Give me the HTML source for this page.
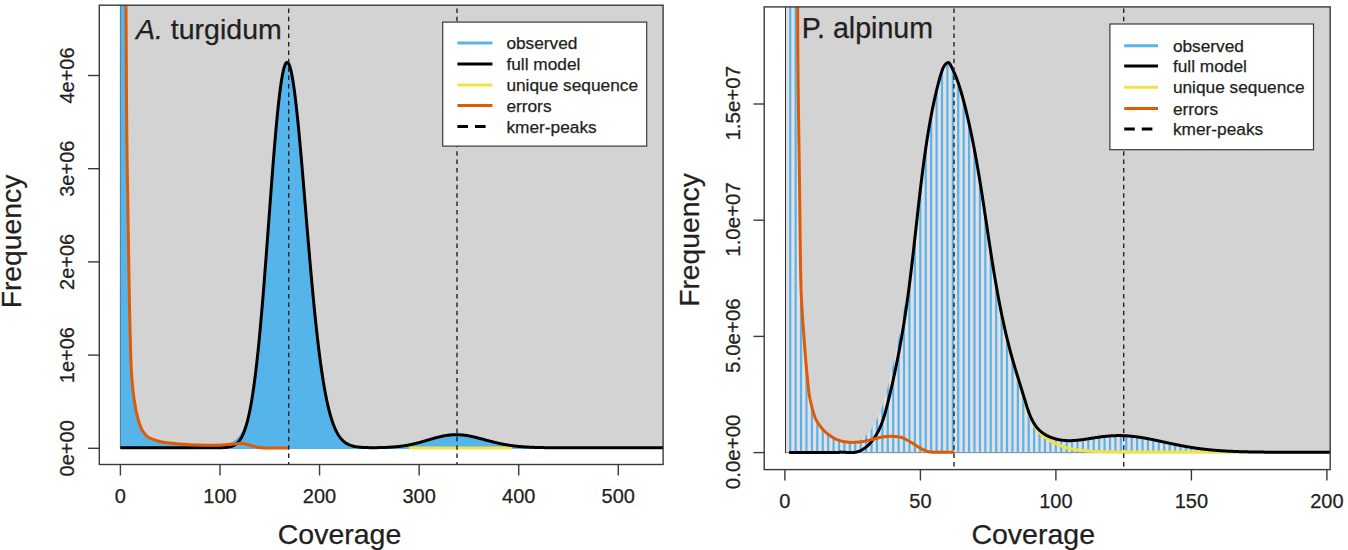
<!DOCTYPE html>
<html><head><meta charset="utf-8"><style>
html,body{margin:0;padding:0;background:#fff;}
svg{display:block;}
text{font-family:"Liberation Sans", sans-serif;fill:#231f20;stroke:#231f20;stroke-width:0.25px;}
</style></head><body>
<svg width="1348" height="550" viewBox="0 0 1348 550">
<clipPath id="cl"><rect x="99.3" y="5.2" width="563.8" height="459.3"/></clipPath>
<clipPath id="cr"><rect x="764.2" y="6.9" width="566" height="462.7"/></clipPath>
<clipPath id="robs"><path d="M786.1,452.6 L786.1,-10 L797.6,-5 L797.63,2.13 L797.66,12.04 L797.71,23.75 L797.76,36.3 L797.82,48.7 L797.9,60 L797.99,70.29 L798.1,80.37 L798.21,90.31 L798.34,100.19 L798.47,110.06 L798.6,120 L798.74,129.88 L798.89,139.63 L799.04,149.38 L799.2,159.26 L799.35,169.42 L799.5,180 L799.64,191.46 L799.78,203.78 L799.91,216.38 L800.04,228.67 L800.17,240.07 L800.3,250 L800.42,258.33 L800.52,265.5 L800.62,271.77 L800.73,277.44 L800.85,282.75 L801,288 L801.18,292.99 L801.37,297.46 L801.58,301.59 L801.81,305.54 L802.05,309.49 L802.3,313.6 L802.57,317.84 L802.86,322.08 L803.16,326.31 L803.47,330.53 L803.78,334.76 L804.1,339 L804.43,343.36 L804.77,347.86 L805.12,352.37 L805.46,356.74 L805.79,360.83 L806.1,364.5 L806.38,367.69 L806.64,370.51 L806.89,373.05 L807.13,375.41 L807.37,377.69 L807.6,380 L807.81,382.28 L808,384.44 L808.18,386.52 L808.38,388.56 L808.61,390.61 L808.9,392.7 L809.24,394.83 L809.63,396.96 L810.04,399.1 L810.5,401.24 L810.98,403.37 L811.5,405.5 L812.06,407.7 L812.68,409.97 L813.32,412.25 L813.99,414.44 L814.65,416.45 L815.3,418.2 L815.92,419.63 L816.52,420.8 L817.12,421.79 L817.74,422.7 L818.39,423.61 L819.1,424.6 L819.86,425.68 L820.66,426.79 L821.49,427.89 L822.36,428.97 L823.26,430.01 L824.2,431 L825.18,431.92 L826.19,432.8 L827.24,433.64 L828.33,434.44 L829.45,435.23 L830,435.4 L830.5,435.73 L831,436.06 L831.5,436.39 L832,436.72 L832.5,437.05 L833,437.37 L833.5,437.68 L834,437.98 L834.5,438.27 L835,438.55 L835.5,438.82 L836,439.06 L836.5,439.3 L837,439.52 L837.5,439.72 L838,439.92 L838.5,440.1 L839,440.26 L839.5,440.42 L840,440.26 L840.5,440.41 L841,440.55 L841.5,440.7 L842,440.83 L842.5,440.97 L843,441.11 L843.5,441.24 L844,441.36 L844.5,441.49 L845,441.61 L845.5,441.72 L846,441.82 L846.5,441.93 L847,442.02 L847.5,442.1 L848,442.18 L848.5,442.26 L849,442.31 L849.5,442.36 L850,442.4 L850.5,442.43 L851,442.44 L851.5,442.45 L852,442.45 L852.5,442.42 L853,442.38 L853.5,442.33 L854,442.27 L854.5,442.18 L855,442.09 L855.5,441.98 L856,441.84 L856.5,441.69 L857,441.52 L857.5,441.34 L858,441.13 L858.5,440.9 L859,440.67 L859.5,440.41 L860,440.12 L860.5,439.83 L861,439.51 L861.5,439.18 L862,438.81 L862.5,438.44 L863,438.04 L863.5,437.63 L864,437.2 L864.5,436.74 L865,436.28 L865.5,435.79 L866,435.28 L866.5,434.76 L867,434.22 L867.5,433.66 L868,433.08 L868.5,432.49 L869,431.87 L869.5,431.24 L870,430.59 L870.5,429.93 L871,429.24 L871.5,428.54 L872,427.81 L872.5,427.06 L873,426.29 L873.5,425.48 L874,424.66 L874.5,423.81 L875,422.93 L875.5,422.02 L876,421.08 L876.5,420.12 L877,419.12 L877.5,418.09 L878,417.03 L878.5,415.93 L879,414.8 L879.5,413.62 L880,412.42 L880.5,411.17 L881,409.86 L881.5,408.51 L882,407.11 L882.5,405.64 L883,404.12 L883.5,402.53 L884,400.87 L884.5,399.16 L885,397.37 L885.5,395.53 L886,393.63 L886.5,391.69 L887,389.7 L887.5,387.69 L888,385.67 L888.5,383.62 L889,381.57 L889.5,379.5 L890,377.41 L890.5,375.31 L891,373.19 L891.5,371.05 L892,368.88 L892.5,366.7 L893,364.49 L893.5,362.25 L894,359.99 L894.5,357.71 L895,355.4 L895.5,353.06 L896,350.69 L896.5,348.3 L897,345.87 L897.5,343.4 L898,340.91 L898.5,338.39 L899,335.83 L899.5,333.23 L900,330.61 L900.5,327.94 L901,325.24 L901.5,322.52 L902,319.76 L902.5,316.97 L903,314.15 L903.5,311.3 L904,308.41 L904.5,305.49 L905,302.52 L905.5,299.51 L906,296.43 L906.5,293.27 L907,290.04 L907.5,286.73 L908,283.35 L908.5,279.91 L909,276.39 L909.5,272.81 L910,269.15 L910.5,265.43 L911,261.63 L911.5,257.77 L912,253.84 L912.5,249.85 L913,245.8 L913.5,241.71 L914,237.58 L914.5,233.42 L915,229.23 L915.5,225.03 L916,220.82 L916.5,216.61 L917,212.4 L917.5,208.21 L918,204.03 L918.5,199.9 L919,195.8 L919.5,191.75 L920,187.75 L920.5,183.83 L921,179.95 L921.5,176.15 L922,172.41 L922.5,168.74 L923,165.13 L923.5,161.6 L924,158.11 L924.5,154.7 L925,151.35 L925.5,148.07 L926,144.84 L926.5,141.69 L927,138.6 L927.5,135.57 L928,132.59 L928.5,129.68 L929,126.81 L929.5,124.02 L930,121.27 L930.5,118.58 L931,115.94 L931.5,113.36 L932,110.84 L932.5,108.36 L933,105.94 L933.5,103.56 L934,101.23 L934.5,98.95 L935,96.72 L935.5,94.53 L936,92.39 L936.5,90.29 L937,88.24 L937.5,86.22 L938,84.25 L938.5,82.34 L939,80.48 L939.5,78.68 L940,76.94 L940.5,75.25 L941,73.62 L941.5,72.05 L942,70.53 L942.5,69.12 L943,67.89 L943.5,66.86 L944,65.98 L944.5,65.23 L945,64.58 L945.5,64 L946,63.5 L946.5,63.07 L947,62.71 L947.5,62.44 L948,62.29 L948.5,62.31 L949,62.56 L949.5,63.09 L950,63.86 L950.5,64.76 L951,65.69 L951.5,66.64 L952,67.62 L952.5,68.63 L953,69.66 L953.5,70.73 L954,71.82 L954.5,73.25 L955,74.42 L955.5,75.62 L956,76.85 L956.5,78.13 L957,79.44 L957.5,80.79 L958,82.19 L958.5,83.63 L959,85.11 L959.5,86.64 L960,88.22 L960.5,89.84 L961,91.51 L961.5,93.22 L962,94.98 L962.5,96.79 L963,98.64 L963.5,100.53 L964,102.45 L964.5,104.41 L965,106.39 L965.5,108.4 L966,110.44 L966.5,112.51 L967,114.61 L967.5,116.74 L968,118.91 L968.5,121.1 L969,123.33 L969.5,125.59 L970,127.88 L970.5,130.21 L971,132.58 L971.5,134.98 L972,137.41 L972.5,139.89 L973,142.4 L973.5,144.95 L974,147.54 L974.5,150.17 L975,152.84 L975.5,155.55 L976,158.3 L976.5,161.08 L977,163.91 L977.5,166.78 L978,169.69 L978.5,172.64 L979,175.62 L979.5,178.64 L980,181.7 L980.5,184.8 L981,187.93 L981.5,191.09 L982,194.28 L982.5,197.5 L983,200.75 L983.5,204.02 L984,207.31 L984.5,210.62 L985,213.94 L985.5,217.28 L986,220.62 L986.5,223.97 L987,227.32 L987.5,230.66 L988,234 L988.5,237.34 L989,240.66 L989.5,243.96 L990,247.24 L990.5,250.51 L991,253.75 L991.5,256.96 L992,260.15 L992.5,263.3 L993,266.42 L993.5,269.5 L994,272.55 L994.5,275.56 L995,278.54 L995.5,281.47 L996,284.37 L996.5,287.22 L997,290.04 L997.5,292.81 L998,295.55 L998.5,298.24 L999,300.89 L999.5,303.5 L1000,306.08 L1000.5,308.61 L1001,311.11 L1001.5,313.57 L1002,315.99 L1002.5,318.37 L1003,320.72 L1003.5,323.03 L1004,325.3 L1004.5,327.55 L1005,329.75 L1005.5,331.93 L1006,334.07 L1006.5,336.18 L1007,338.27 L1007.5,340.32 L1008,342.34 L1008.5,344.33 L1009,346.29 L1009.5,348.23 L1010,350.14 L1010.5,352.02 L1011,353.88 L1011.5,355.72 L1012,357.52 L1012.5,359.31 L1013,361.07 L1013.5,362.81 L1014,364.53 L1014.5,366.23 L1015,367.92 L1015.5,369.59 L1016,371.25 L1016.5,372.9 L1017,374.54 L1017.5,376.17 L1018,377.79 L1018.5,379.41 L1019,381.02 L1019.5,382.63 L1020,384.23 L1020.5,385.84 L1021,387.44 L1021.5,389.04 L1022,390.65 L1022.5,392.26 L1023,393.87 L1023.5,395.48 L1024,397.11 L1024.5,398.73 L1025,400.37 L1025.5,402.01 L1026,403.64 L1026.5,405.25 L1027,406.83 L1027.5,408.38 L1028,409.87 L1028.5,411.31 L1029,412.69 L1029.5,414.01 L1030,415.27 L1030.5,416.47 L1031,417.62 L1031.5,418.7 L1032,419.74 L1032.5,420.72 L1033,421.65 L1033.5,422.54 L1034,423.38 L1034.5,424.18 L1035,424.93 L1035.5,425.66 L1036,426.34 L1036.5,426.99 L1037,427.61 L1037.5,428.21 L1038,428.77 L1038.5,429.3 L1039,429.81 L1039.5,430.3 L1040,430.76 L1040.5,431.21 L1041,431.63 L1041.5,432.03 L1042,432.42 L1042.5,432.8 L1043,433.16 L1043.5,433.5 L1044,433.83 L1044.5,434.15 L1045,434.46 L1045.5,434.76 L1046,435.04 L1046.5,435.32 L1047,435.58 L1047.5,435.84 L1048,436.09 L1048.5,436.33 L1049,436.56 L1049.5,436.78 L1050,436.99 L1050.5,437.2 L1051,437.4 L1051.5,437.59 L1052,437.77 L1052.5,437.95 L1053,438.12 L1053.5,438.28 L1054,438.44 L1054.5,438.59 L1055,438.74 L1055.5,438.88 L1056,439.01 L1056.5,439.14 L1057,439.26 L1057.5,439.38 L1058,439.49 L1058.5,439.6 L1059,439.7 L1059.5,439.79 L1060,439.88 L1060.5,439.96 L1061,440.04 L1061.5,440.12 L1062,440.19 L1062.5,440.25 L1063,440.31 L1063.5,440.37 L1064,440.42 L1064.5,440.46 L1065,440.5 L1065.5,440.54 L1066,440.57 L1066.5,440.59 L1067,440.61 L1067.5,440.63 L1068,440.65 L1068.5,440.66 L1069,440.66 L1069.5,440.66 L1070,440.66 L1070.5,440.65 L1071,440.64 L1071.5,440.63 L1072,440.62 L1072.5,440.6 L1073,440.57 L1073.5,440.55 L1074,440.52 L1074.5,440.48 L1075,440.45 L1075.5,440.41 L1076,440.37 L1076.5,440.33 L1077,440.28 L1077.5,440.23 L1078,440.18 L1078.5,440.13 L1079,440.07 L1079.5,440.02 L1080,439.96 L1080.5,439.89 L1081,439.83 L1081.5,439.77 L1082,439.7 L1082.5,439.63 L1083,439.56 L1083.5,439.49 L1084,439.42 L1084.5,439.35 L1085,439.27 L1085.5,439.2 L1086,439.12 L1086.5,439.04 L1087,438.97 L1087.5,438.89 L1088,438.81 L1088.5,438.73 L1089,438.65 L1089.5,438.57 L1090,438.49 L1090.5,438.41 L1091,438.33 L1091.5,438.25 L1092,438.17 L1092.5,438.09 L1093,438.02 L1093.5,437.94 L1094,437.86 L1094.5,437.78 L1095,437.71 L1095.5,437.63 L1096,437.55 L1096.5,437.48 L1097,437.4 L1097.5,437.33 L1098,437.26 L1098.5,437.19 L1099,437.12 L1099.5,437.05 L1100,436.98 L1100.5,436.91 L1101,436.85 L1101.5,436.78 L1102,436.72 L1102.5,436.66 L1103,436.6 L1103.5,436.54 L1104,436.48 L1104.5,436.43 L1105,436.37 L1105.5,436.32 L1106,436.27 L1106.5,436.22 L1107,436.17 L1107.5,436.13 L1108,436.08 L1108.5,436.04 L1109,436 L1109.5,435.96 L1110,435.92 L1110.5,435.89 L1111,435.86 L1111.5,435.82 L1112,435.8 L1112.5,435.77 L1113,435.74 L1113.5,435.72 L1114,435.7 L1114.5,435.68 L1115,435.66 L1115.5,435.64 L1116,435.63 L1116.5,435.62 L1117,435.61 L1117.5,435.6 L1118,435.6 L1118.5,435.59 L1119,435.59 L1119.5,435.59 L1120,435.6 L1120.5,435.6 L1121,435.61 L1121.5,435.62 L1122,435.63 L1122.5,435.64 L1123,435.66 L1123.5,435.68 L1124,435.7 L1124.5,435.72 L1125,435.74 L1125.5,435.77 L1126,435.79 L1126.5,435.82 L1127,435.86 L1127.5,435.89 L1128,435.92 L1128.5,435.96 L1129,436 L1129.5,436.04 L1130,436.09 L1130.5,436.13 L1131,436.18 L1131.5,436.23 L1132,436.28 L1132.5,436.33 L1133,436.38 L1133.5,436.44 L1134,436.5 L1134.5,436.56 L1135,436.62 L1135.5,436.68 L1136,436.75 L1136.5,436.81 L1137,436.88 L1137.5,436.95 L1138,437.02 L1138.5,437.09 L1139,437.16 L1139.5,437.24 L1140,437.32 L1140.5,437.39 L1141,437.47 L1141.5,437.55 L1142,437.64 L1142.5,437.72 L1143,437.8 L1143.5,437.89 L1144,437.98 L1144.5,438.06 L1145,438.15 L1145.5,438.24 L1146,438.34 L1146.5,438.43 L1147,438.52 L1147.5,438.62 L1148,438.71 L1148.5,438.81 L1149,438.9 L1149.5,439 L1150,439.1 L1150.5,439.2 L1151,439.3 L1151.5,439.4 L1152,439.5 L1152.5,439.61 L1153,439.71 L1153.5,439.81 L1154,439.92 L1154.5,440.02 L1155,440.13 L1155.5,440.23 L1156,440.34 L1156.5,440.44 L1157,440.55 L1157.5,440.66 L1158,440.77 L1158.5,440.87 L1159,440.98 L1159.5,441.09 L1160,441.2 L1160.5,441.31 L1161,441.42 L1161.5,441.52 L1162,441.63 L1162.5,441.74 L1163,441.85 L1163.5,441.96 L1164,442.07 L1164.5,442.18 L1165,442.29 L1165.5,442.4 L1166,442.5 L1166.5,442.61 L1167,442.72 L1167.5,442.83 L1168,442.94 L1168.5,443.05 L1169,443.15 L1169.5,443.26 L1170,443.37 L1170.5,443.47 L1171,443.58 L1171.5,443.69 L1172,443.79 L1172.5,443.9 L1173,444 L1173.5,444.11 L1174,444.21 L1174.5,444.31 L1175,444.42 L1175.5,444.52 L1176,444.62 L1176.5,444.72 L1177,444.82 L1177.5,444.92 L1178,445.02 L1178.5,445.12 L1179,445.22 L1179.5,445.32 L1180,445.41 L1180.5,445.51 L1181,445.61 L1181.5,445.7 L1182,445.8 L1182.5,445.89 L1183,445.98 L1183.5,446.07 L1184,446.17 L1184.5,446.26 L1185,446.35 L1185.5,446.44 L1186,446.52 L1186.5,446.61 L1187,446.7 L1187.5,446.79 L1188,446.87 L1188.5,446.96 L1189,447.04 L1189.5,447.12 L1190,447.21 L1190.5,447.29 L1191,447.37 L1191.5,447.45 L1192,447.53 L1192.5,447.6 L1193,447.68 L1193.5,447.76 L1194,447.83 L1194.5,447.91 L1195,447.98 L1195.5,448.06 L1196,448.13 L1196.5,448.2 L1197,448.27 L1197.5,448.34 L1198,448.41 L1198.5,448.48 L1199,448.54 L1199.5,448.61 L1200,448.68 L1200.5,448.74 L1201,448.81 L1201.5,448.87 L1202,448.93 L1202.5,448.99 L1203,449.05 L1203.5,449.11 L1204,449.17 L1204.5,449.23 L1205,449.29 L1205.5,449.34 L1206,449.4 L1206.5,449.46 L1207,449.51 L1207.5,449.56 L1208,449.62 L1208.5,449.67 L1209,449.72 L1209.5,449.77 L1210,449.82 L1210.5,449.87 L1211,449.92 L1211.5,449.96 L1212,450.01 L1212.5,450.06 L1213,450.1 L1213.5,450.15 L1214,450.19 L1214.5,450.23 L1215,450.28 L1215.5,450.32 L1216,450.36 L1216.5,450.4 L1217,450.44 L1217.5,450.48 L1218,450.52 L1218.5,450.55 L1219,450.59 L1219.5,450.63 L1220,450.66 L1220.5,450.7 L1221,450.73 L1221.5,450.77 L1222,450.8 L1222.5,450.83 L1223,450.86 L1223.5,450.9 L1224,450.93 L1224.5,450.96 L1225,450.99 L1225.5,451.02 L1226,451.05 L1226.5,451.07 L1227,451.1 L1227.5,451.13 L1228,451.16 L1228.5,451.18 L1229,451.21 L1229.5,451.23 L1230,451.26 L1230.5,451.28 L1231,451.31 L1231.5,451.33 L1232,451.35 L1232.5,451.37 L1233,451.4 L1233.5,451.42 L1234,451.44 L1234.5,451.46 L1235,451.48 L1235.5,451.5 L1236,451.52 L1236.5,451.54 L1237,451.55 L1237.5,451.57 L1238,451.59 L1238.5,451.61 L1239,451.63 L1239.5,451.64 L1240,451.66 L1240.5,451.67 L1241,451.69 L1241.5,451.7 L1242,451.72 L1242.5,451.73 L1243,451.75 L1243.5,451.76 L1244,451.78 L1244.5,451.79 L1245,451.8 L1245.5,451.82 L1246,451.83 L1246.5,451.84 L1247,451.85 L1247.5,451.86 L1248,451.87 L1248.5,451.89 L1249,451.9 L1249.5,451.91 L1250,451.92 L1250.5,451.93 L1251,451.94 L1251.5,451.95 L1252,451.96 L1252.5,451.97 L1253,451.97 L1253.5,451.98 L1254,451.99 L1254.5,452 L1255,452.01 L1255.5,452.02 L1256,452.02 L1256.5,452.03 L1257,452.04 L1257.5,452.05 L1258,452.05 L1258.5,452.06 L1259,452.07 L1259.5,452.07 L1260,452.08 L1260.5,452.09 L1261,452.09 L1261.5,452.1 L1262,452.1 L1262.5,452.11 L1263,452.11 L1263.5,452.12 L1264,452.12 L1264.5,452.13 L1265,452.13 L1265.5,452.14 L1266,452.14 L1266.5,452.15 L1267,452.15 L1267.5,452.16 L1268,452.16 L1268.5,452.17 L1269,452.17 L1269.5,452.17 L1270,452.18 L1270.5,452.18 L1271,452.18 L1271.5,452.19 L1272,452.19 L1272.5,452.19 L1273,452.2 L1273.5,452.2 L1274,452.2 L1274.5,452.21 L1275,452.21 L1275.5,452.21 L1276,452.21 L1276.5,452.22 L1277,452.22 L1277.5,452.22 L1278,452.22 L1278.5,452.23 L1279,452.23 L1279.5,452.23 L1280,452.23 L1280.5,452.23 L1281,452.24 L1281.5,452.24 L1282,452.24 L1282.5,452.24 L1283,452.24 L1283.5,452.25 L1284,452.25 L1284.5,452.25 L1285,452.25 L1285.5,452.25 L1286,452.25 L1286.5,452.26 L1287,452.26 L1287.5,452.26 L1288,452.26 L1288.5,452.26 L1289,452.26 L1289.5,452.26 L1290,452.26 L1290.5,452.27 L1291,452.27 L1291.5,452.27 L1292,452.27 L1292.5,452.27 L1293,452.27 L1293.5,452.27 L1294,452.27 L1294.5,452.27 L1295,452.27 L1295.5,452.28 L1296,452.28 L1296.5,452.28 L1297,452.28 L1297.5,452.28 L1298,452.28 L1298.5,452.28 L1299,452.28 L1299.5,452.28 L1300,452.28 L1300.5,452.28 L1301,452.28 L1301.5,452.28 L1302,452.28 L1302.5,452.28 L1303,452.29 L1303.5,452.29 L1304,452.29 L1304.5,452.29 L1305,452.29 L1305.5,452.29 L1306,452.29 L1306.5,452.29 L1307,452.29 L1307.5,452.29 L1308,452.29 L1308.5,452.29 L1309,452.29 L1309.5,452.29 L1310,452.29 L1310.5,452.29 L1311,452.29 L1311.5,452.29 L1312,452.29 L1312.5,452.29 L1313,452.29 L1313.5,452.29 L1314,452.29 L1314.5,452.29 L1315,452.29 L1315.5,452.29 L1316,452.29 L1316.5,452.29 L1317,452.29 L1317.5,452.29 L1318,452.29 L1318.5,452.3 L1319,452.3 L1319.5,452.3 L1320,452.3 L1320.5,452.3 L1321,452.3 L1321.5,452.3 L1322,452.3 L1322.5,452.3 L1323,452.3 L1323.5,452.3 L1324,452.3 L1324.5,452.3 L1325,452.3 L1325.5,452.3 L1326,452.3 L1326.5,452.3 L1327,452.3 L1327.5,452.3 L1328,452.3 L1328.5,452.3 L1329,452.3 L1329.5,452.3 L1330,452.3 L1330.5,452.3 L1331,452.3 L1331.5,452.3 L1332,452.3 L1332.5,452.3 L1333,452.3 L1333.5,452.3 L1334,452.3 L1334.5,452.3 L1335,452.6Z"/></clipPath>
<g clip-path="url(#cl)">
<rect x="120.4" y="-10" width="700" height="458.3" fill="#d3d3d3" stroke="#333" stroke-width="1"/>
<path d="M120.4,449.1 L120.4,-10 L125.9,-5 L125.93,-0.28 L125.98,6.11 L126.03,13.75 L126.09,22.22 L126.15,31.11 L126.2,40 L126.25,49.13 L126.29,58.89 L126.33,69.06 L126.38,79.44 L126.43,89.83 L126.5,100 L126.58,110.23 L126.67,120.74 L126.78,131.25 L126.88,141.48 L126.99,151.16 L127.1,160 L127.21,167.59 L127.32,174.07 L127.43,180 L127.55,185.93 L127.67,192.41 L127.8,200 L127.94,208.96 L128.09,218.89 L128.24,229.38 L128.39,240 L128.55,250.35 L128.7,260 L128.85,269.14 L129.01,278.15 L129.16,286.88 L129.31,295.19 L129.46,302.94 L129.6,310 L129.72,316.16 L129.84,321.48 L129.94,326.25 L130.05,330.74 L130.17,335.23 L130.3,340 L130.45,345.18 L130.61,350.57 L130.78,355.97 L130.95,361.15 L131.12,365.9 L131.3,370 L131.47,373.31 L131.64,375.98 L131.81,378.21 L131.99,380.23 L132.18,382.26 L132.4,384.5 L132.64,386.93 L132.89,389.36 L133.16,391.8 L133.44,394.24 L133.76,396.67 L134.1,399.1 L134.46,401.52 L134.83,403.94 L135.23,406.35 L135.67,408.76 L136.15,411.18 L136.7,413.6 L137.32,416.11 L138.01,418.73 L138.74,421.35 L139.51,423.87 L140.31,426.19 L141.1,428.2 L141.92,429.89 L142.8,431.34 L143.69,432.59 L144.57,433.68 L145.42,434.63 L146.2,435.5 L146.88,436.22 L147.47,436.76 L148.02,437.16 L148.59,437.5 L149.23,437.83 L150,438.2 L150.93,438.62 L151.97,439.03 L153.09,439.42 L154.23,439.81 L155.35,440.17 L156.4,440.5 L157.36,440.8 L158.26,441.08 L159.13,441.33 L160.02,441.57 L160.97,441.79 L162,442 L163.11,442.2 L164.25,442.37 L165.44,442.54 L166.71,442.69 L168.05,442.84 L169.5,443 L171.07,443.16 L172.76,443.31 L174.53,443.46 L176.35,443.6 L178.19,443.75 L180,443.9 L181.76,444.06 L183.5,444.22 L185.24,444.38 L187.05,444.54 L188.95,444.68 L190,444.24 L190.5,444.27 L191,444.3 L191.5,444.32 L192,444.35 L192.5,444.37 L193,444.39 L193.5,444.41 L194,444.43 L194.5,444.45 L195,444.47 L195.5,444.49 L196,444.51 L196.5,444.52 L197,444.54 L197.5,444.55 L198,444.57 L198.5,444.58 L199,444.59 L199.5,444.61 L200,444.62 L200.5,444.63 L201,444.64 L201.5,444.65 L202,444.66 L202.5,444.66 L203,444.67 L203.5,444.68 L204,444.68 L204.5,444.69 L205,444.69 L205.5,444.7 L206,444.7 L206.5,444.7 L207,444.7 L207.5,444.7 L208,444.7 L208.5,444.7 L209,444.7 L209.5,444.7 L210,444.7 L210.5,444.69 L211,444.69 L211.5,444.68 L212,444.68 L212.5,444.67 L213,444.67 L213.5,444.66 L214,444.65 L214.5,444.64 L215,444.63 L215.5,444.62 L216,444.61 L216.5,444.6 L217,444.59 L217.5,444.57 L218,444.56 L218.5,444.54 L219,444.52 L219.5,444.5 L220,444.48 L220.5,444.45 L221,444.42 L221.5,444.39 L222,444.36 L222.5,444.32 L223,444.28 L223.5,444.23 L224,444.18 L224.5,444.12 L225,444.05 L225.5,443.97 L226,443.89 L226.5,443.79 L227,443.69 L227.5,443.57 L228,443.45 L228.5,443.31 L229,443.17 L229.5,443.02 L230,442.85 L230.5,442.67 L231,442.48 L231.5,442.27 L232,442.04 L232.5,441.79 L233,441.52 L233.5,441.23 L234,440.92 L234.5,440.58 L235,440.22 L235.5,439.83 L236,439.41 L236.5,438.96 L237,438.47 L237.5,437.95 L238,437.4 L238.5,436.82 L239,436.18 L239.5,435.52 L240,434.81 L240.5,434.05 L241,433.27 L241.5,432.44 L242,431.57 L242.5,430.64 L243,429.65 L243.5,428.59 L244,427.46 L244.5,426.26 L245,424.98 L245.5,423.61 L246,422.15 L246.5,420.6 L247,418.95 L247.5,417.2 L248,415.33 L248.5,413.36 L249,411.28 L249.5,409.09 L250,406.78 L250.5,404.34 L251,401.78 L251.5,399.08 L252,396.24 L252.5,393.26 L253,390.13 L253.5,386.85 L254,383.42 L254.5,379.85 L255,376.13 L255.5,372.25 L256,368.23 L256.5,364.05 L257,359.72 L257.5,355.23 L258,350.58 L258.5,345.78 L259,340.83 L259.5,335.73 L260,330.49 L260.5,325.1 L261,319.57 L261.5,313.9 L262,308.1 L262.5,302.19 L263,296.16 L263.5,290.03 L264,283.8 L264.5,277.47 L265,271.06 L265.5,264.58 L266,258.03 L266.5,251.42 L267,244.77 L267.5,238.07 L268,231.35 L268.5,224.6 L269,217.86 L269.5,211.11 L270,204.38 L270.5,197.68 L271,191.01 L271.5,184.4 L272,177.84 L272.5,171.36 L273,164.97 L273.5,158.67 L274,152.48 L274.5,146.41 L275,140.48 L275.5,134.68 L276,129.05 L276.5,123.58 L277,118.28 L277.5,113.17 L278,108.26 L278.5,103.55 L279,99.06 L279.5,94.8 L280,90.76 L280.5,86.97 L281,83.43 L281.5,80.13 L282,77.1 L282.5,74.34 L283,71.85 L283.5,69.63 L284,67.69 L284.5,66.04 L285,64.67 L285.5,63.58 L286,62.79 L286.5,62.28 L287,62.06 L287.5,62.13 L288,62.48 L288.5,63.12 L289,64.33 L289.5,65.53 L290,67 L290.5,68.74 L291,70.75 L291.5,73.01 L292,75.53 L292.5,78.29 L293,81.29 L293.5,84.53 L294,87.99 L294.5,91.67 L295,95.55 L295.5,99.64 L296,103.91 L296.5,108.37 L297,113 L297.5,117.79 L298,122.73 L298.5,127.82 L299,133.03 L299.5,138.38 L300,143.83 L300.5,149.39 L301,155.04 L301.5,160.77 L302,166.57 L302.5,172.44 L303,178.36 L303.5,184.32 L304,190.32 L304.5,196.35 L305,202.39 L305.5,208.43 L306,214.48 L306.5,220.52 L307,226.54 L307.5,232.54 L308,238.51 L308.5,244.43 L309,250.31 L309.5,256.14 L310,261.92 L310.5,267.63 L311,273.27 L311.5,278.83 L312,284.32 L312.5,289.73 L313,295.04 L313.5,300.27 L314,305.4 L314.5,310.44 L315,315.38 L315.5,320.21 L316,324.94 L316.5,329.57 L317,334.08 L317.5,338.49 L318,342.78 L318.5,346.97 L319,351.04 L319.5,355.01 L320,358.86 L320.5,362.6 L321,366.22 L321.5,369.74 L322,373.15 L322.5,376.45 L323,379.64 L323.5,382.72 L324,385.7 L324.5,388.58 L325,391.35 L325.5,394.02 L326,396.6 L326.5,399.07 L327,401.45 L327.5,403.74 L328,405.94 L328.5,408.05 L329,410.08 L329.5,412.02 L330,413.87 L330.5,415.65 L331,417.35 L331.5,418.98 L332,420.53 L332.5,422.01 L333,423.43 L333.5,424.78 L334,426.06 L334.5,427.29 L335,428.45 L335.5,429.56 L336,430.61 L336.5,431.61 L337,432.56 L337.5,433.47 L338,434.32 L338.5,435.13 L339,435.9 L339.5,436.62 L340,437.31 L340.5,437.96 L341,438.57 L341.5,439.15 L342,439.7 L342.5,440.22 L343,440.7 L343.5,441.16 L344,441.59 L344.5,442 L345,442.38 L345.5,442.74 L346,443.08 L346.5,443.4 L347,443.7 L347.5,443.98 L348,444.24 L348.5,444.48 L349,444.71 L349.5,444.93 L350,445.13 L350.5,445.32 L351,445.49 L351.5,445.66 L352,445.81 L352.5,445.96 L353,446.09 L353.5,446.21 L354,446.33 L354.5,446.44 L355,446.54 L355.5,446.63 L356,446.72 L356.5,446.8 L357,446.87 L357.5,446.94 L358,447.01 L358.5,447.07 L359,447.12 L359.5,447.17 L360,447.22 L360.5,447.27 L361,447.31 L361.5,447.34 L362,447.38 L362.5,447.41 L363,447.44 L363.5,447.46 L364,447.49 L364.5,447.51 L365,447.53 L365.5,447.55 L366,447.56 L366.5,447.58 L367,447.59 L367.5,447.6 L368,447.61 L368.5,447.62 L369,447.63 L369.5,447.64 L370,447.64 L370.5,447.65 L371,447.65 L371.5,447.65 L372,447.66 L372.5,447.66 L373,447.66 L373.5,447.66 L374,447.66 L374.5,447.65 L375,447.65 L375.5,447.65 L376,447.64 L376.5,447.64 L377,447.63 L377.5,447.63 L378,447.62 L378.5,447.61 L379,447.6 L379.5,447.59 L380,447.58 L380.5,447.57 L381,447.56 L381.5,447.55 L382,447.54 L382.5,447.52 L383,447.51 L383.5,447.49 L384,447.48 L384.5,447.46 L385,447.44 L385.5,447.42 L386,447.4 L386.5,447.38 L387,447.36 L387.5,447.34 L388,447.31 L388.5,447.29 L389,447.26 L389.5,447.23 L390,447.2 L390.5,447.17 L391,447.14 L391.5,447.11 L392,447.08 L392.5,447.04 L393,447.01 L393.5,446.97 L394,446.93 L394.5,446.89 L395,446.84 L395.5,446.8 L396,446.76 L396.5,446.71 L397,446.66 L397.5,446.61 L398,446.56 L398.5,446.5 L399,446.45 L399.5,446.39 L400,446.33 L400.5,446.27 L401,446.21 L401.5,446.14 L402,446.08 L402.5,446.01 L403,445.94 L403.5,445.86 L404,445.79 L404.5,445.71 L405,445.63 L405.5,445.55 L406,445.47 L406.5,445.39 L407,445.3 L407.5,445.21 L408,445.12 L408.5,445.03 L409,444.93 L409.5,444.83 L410,444.73 L410.5,444.63 L411,444.53 L411.5,444.42 L412,444.32 L412.5,444.21 L413,444.09 L413.5,443.98 L414,443.87 L414.5,443.75 L415,443.63 L415.5,443.51 L416,443.38 L416.5,443.26 L417,443.13 L417.5,443.01 L418,442.88 L418.5,442.74 L419,442.61 L419.5,442.48 L420,442.34 L420.5,442.2 L421,442.07 L421.5,441.93 L422,441.78 L422.5,441.64 L423,441.5 L423.5,441.36 L424,441.21 L424.5,441.07 L425,440.92 L425.5,440.77 L426,440.63 L426.5,440.48 L427,440.33 L427.5,440.18 L428,440.03 L428.5,439.89 L429,439.74 L429.5,439.59 L430,439.44 L430.5,439.29 L431,439.15 L431.5,439 L432,438.86 L432.5,438.71 L433,438.57 L433.5,438.43 L434,438.28 L434.5,438.14 L435,438 L435.5,437.87 L436,437.73 L436.5,437.6 L437,437.46 L437.5,437.33 L438,437.21 L438.5,437.08 L439,436.96 L439.5,436.83 L440,436.72 L440.5,436.6 L441,436.48 L441.5,436.37 L442,436.26 L442.5,436.16 L443,436.06 L443.5,435.96 L444,435.86 L444.5,435.77 L445,435.68 L445.5,435.59 L446,435.51 L446.5,435.43 L447,435.35 L447.5,435.28 L448,435.21 L448.5,435.15 L449,435.09 L449.5,435.03 L450,434.98 L450.5,434.93 L451,434.88 L451.5,434.84 L452,434.8 L452.5,434.77 L453,434.74 L453.5,434.72 L454,434.7 L454.5,434.68 L455,434.67 L455.5,434.66 L456,434.66 L456.5,434.66 L457,434.66 L457.5,434.67 L458,434.68 L458.5,434.7 L459,434.72 L459.5,434.75 L460,434.78 L460.5,434.81 L461,434.85 L461.5,434.89 L462,434.93 L462.5,434.98 L463,435.03 L463.5,435.09 L464,435.15 L464.5,435.21 L465,435.28 L465.5,435.35 L466,435.42 L466.5,435.5 L467,435.58 L467.5,435.66 L468,435.75 L468.5,435.83 L469,435.93 L469.5,436.02 L470,436.12 L470.5,436.22 L471,436.32 L471.5,436.43 L472,436.53 L472.5,436.64 L473,436.75 L473.5,436.87 L474,436.98 L474.5,437.1 L475,437.22 L475.5,437.34 L476,437.47 L476.5,437.59 L477,437.72 L477.5,437.84 L478,437.97 L478.5,438.1 L479,438.23 L479.5,438.36 L480,438.49 L480.5,438.63 L481,438.76 L481.5,438.9 L482,439.03 L482.5,439.17 L483,439.3 L483.5,439.44 L484,439.57 L484.5,439.71 L485,439.84 L485.5,439.98 L486,440.11 L486.5,440.25 L487,440.38 L487.5,440.52 L488,440.65 L488.5,440.79 L489,440.92 L489.5,441.05 L490,441.18 L490.5,441.31 L491,441.44 L491.5,441.57 L492,441.7 L492.5,441.83 L493,441.95 L493.5,442.08 L494,442.2 L494.5,442.32 L495,442.44 L495.5,442.56 L496,442.68 L496.5,442.8 L497,442.91 L497.5,443.03 L498,443.14 L498.5,443.25 L499,443.36 L499.5,443.47 L500,443.58 L500.5,443.68 L501,443.79 L501.5,443.89 L502,443.99 L502.5,444.09 L503,444.19 L503.5,444.28 L504,444.38 L504.5,444.47 L505,444.56 L505.5,444.65 L506,444.73 L506.5,444.82 L507,444.9 L507.5,444.99 L508,445.07 L508.5,445.15 L509,445.22 L509.5,445.3 L510,445.37 L510.5,445.45 L511,445.52 L511.5,445.59 L512,445.65 L512.5,445.72 L513,445.78 L513.5,445.85 L514,445.91 L514.5,445.97 L515,446.03 L515.5,446.08 L516,446.14 L516.5,446.2 L517,446.25 L517.5,446.3 L518,446.35 L518.5,446.4 L519,446.45 L519.5,446.49 L520,446.54 L520.5,446.58 L521,446.62 L521.5,446.66 L522,446.7 L522.5,446.74 L523,446.78 L523.5,446.82 L524,446.85 L524.5,446.89 L525,446.92 L525.5,446.95 L526,446.99 L526.5,447.02 L527,447.05 L527.5,447.07 L528,447.1 L528.5,447.13 L529,447.15 L529.5,447.18 L530,447.2 L530.5,447.23 L531,447.25 L531.5,447.27 L532,447.29 L532.5,447.31 L533,447.33 L533.5,447.35 L534,447.37 L534.5,447.39 L535,447.4 L535.5,447.42 L536,447.44 L536.5,447.45 L537,447.47 L537.5,447.48 L538,447.49 L538.5,447.51 L539,447.52 L539.5,447.53 L540,447.54 L540.5,447.55 L541,447.56 L541.5,447.57 L542,447.58 L542.5,447.59 L543,447.6 L543.5,447.61 L544,447.62 L544.5,447.63 L545,447.64 L545.5,447.64 L546,447.65 L546.5,447.66 L547,447.66 L547.5,447.67 L548,447.68 L548.5,447.68 L549,447.69 L549.5,447.69 L550,447.7 L550.5,447.7 L551,447.71 L551.5,447.71 L552,447.72 L552.5,447.72 L553,447.72 L553.5,447.73 L554,447.73 L554.5,447.73 L555,447.74 L555.5,447.74 L556,447.74 L556.5,447.75 L557,447.75 L557.5,447.75 L558,447.75 L558.5,447.76 L559,447.76 L559.5,447.76 L560,447.76 L560.5,447.77 L561,447.77 L561.5,447.77 L562,447.77 L562.5,447.77 L563,447.77 L563.5,447.77 L564,447.78 L564.5,447.78 L565,447.78 L565.5,447.78 L566,447.78 L566.5,447.78 L567,447.78 L567.5,447.78 L568,447.78 L568.5,447.79 L569,447.79 L569.5,447.79 L570,447.79 L570.5,447.79 L571,447.79 L571.5,447.79 L572,447.79 L572.5,447.79 L573,447.79 L573.5,447.79 L574,447.79 L574.5,447.79 L575,447.79 L575.5,447.79 L576,447.79 L576.5,447.79 L577,447.79 L577.5,447.79 L578,447.8 L578.5,447.8 L579,447.8 L579.5,447.8 L580,447.8 L580.5,447.8 L581,447.8 L581.5,447.8 L582,447.8 L582.5,447.8 L583,447.8 L583.5,447.8 L584,447.8 L584.5,447.8 L585,447.8 L585.5,447.8 L586,447.8 L586.5,447.8 L587,447.8 L587.5,447.8 L588,447.8 L588.5,447.8 L589,447.8 L589.5,447.8 L590,447.8 L590.5,447.8 L591,447.8 L591.5,447.8 L592,447.8 L592.5,447.8 L593,447.8 L593.5,447.8 L594,447.8 L594.5,447.8 L595,447.8 L595.5,447.8 L596,447.8 L596.5,447.8 L597,447.8 L597.5,447.8 L598,447.8 L598.5,447.8 L599,447.8 L599.5,447.8 L600,447.8 L600.5,447.8 L601,447.8 L601.5,447.8 L602,447.8 L602.5,447.8 L603,447.8 L603.5,447.8 L604,447.8 L604.5,447.8 L605,447.8 L605.5,447.8 L606,447.8 L606.5,447.8 L607,447.8 L607.5,447.8 L608,447.8 L608.5,447.8 L609,447.8 L609.5,447.8 L610,447.8 L610.5,447.8 L611,447.8 L611.5,447.8 L612,447.8 L612.5,447.8 L613,447.8 L613.5,447.8 L614,447.8 L614.5,447.8 L615,447.8 L615.5,447.8 L616,447.8 L616.5,447.8 L617,447.8 L617.5,447.8 L618,447.8 L618.5,447.8 L619,447.8 L619.5,447.8 L620,447.8 L620.5,447.8 L621,447.8 L621.5,447.8 L622,447.8 L622.5,447.8 L623,447.8 L623.5,447.8 L624,447.8 L624.5,447.8 L625,447.8 L625.5,447.8 L626,447.8 L626.5,447.8 L627,447.8 L627.5,447.8 L628,447.8 L628.5,447.8 L629,447.8 L629.5,447.8 L630,447.8 L630.5,447.8 L631,447.8 L631.5,447.8 L632,447.8 L632.5,447.8 L633,447.8 L633.5,447.8 L634,447.8 L634.5,447.8 L635,447.8 L635.5,447.8 L636,447.8 L636.5,447.8 L637,447.8 L637.5,447.8 L638,447.8 L638.5,447.8 L639,447.8 L639.5,447.8 L640,447.8 L640.5,447.8 L641,447.8 L641.5,447.8 L642,447.8 L642.5,447.8 L643,447.8 L643.5,447.8 L644,447.8 L644.5,447.8 L645,447.8 L645.5,447.8 L646,447.8 L646.5,447.8 L647,447.8 L647.5,447.8 L648,447.8 L648.5,447.8 L649,447.8 L649.5,447.8 L650,447.8 L650.5,447.8 L651,447.8 L651.5,447.8 L652,447.8 L652.5,447.8 L653,447.8 L653.5,447.8 L654,447.8 L654.5,447.8 L655,447.8 L655.5,447.8 L656,447.8 L656.5,447.8 L657,447.8 L657.5,447.8 L658,447.8 L658.5,447.8 L659,447.8 L659.5,447.8 L660,447.8 L660.5,447.8 L661,447.8 L661.5,447.8 L662,447.8 L662.5,447.8 L663,447.8 L663.5,447.8 L664,447.8 L664.5,447.8 L665,447.8 L665.5,447.8 L666,447.8 L666.5,447.8 L667,447.8 L667.5,447.8 L668,447.8 L668.5,447.8 L669,447.8 L669.5,447.8 L670,449.1Z" fill="#55B5EB"/>
<path d="M409,448 L409.5,448 L410,448 L410.5,448 L411,448 L411.5,448 L412,448 L412.5,448 L413,448 L413.5,448 L414,448 L414.5,448 L415,448 L415.5,448 L416,448 L416.5,448 L417,448 L417.5,448 L418,448 L418.5,448 L419,448 L419.5,448 L420,448 L420.5,448 L421,448 L421.5,448 L422,448 L422.5,448 L423,448 L423.5,448 L424,448 L424.5,448 L425,448 L425.5,448 L426,448 L426.5,448 L427,448 L427.5,448 L428,448 L428.5,448 L429,448 L429.5,448 L430,448 L430.5,448 L431,448 L431.5,448 L432,448 L432.5,448 L433,448 L433.5,448 L434,448 L434.5,448 L435,448 L435.5,448 L436,448 L436.5,448 L437,448 L437.5,448 L438,448 L438.5,448 L439,448 L439.5,448 L440,448 L440.5,448 L441,448 L441.5,448 L442,448 L442.5,448 L443,448 L443.5,448 L444,448 L444.5,448 L445,448 L445.5,448 L446,448 L446.5,448 L447,448 L447.5,448 L448,448 L448.5,448 L449,448 L449.5,448 L450,448 L450.5,448 L451,448 L451.5,448 L452,448 L452.5,448 L453,448 L453.5,448 L454,448 L454.5,448 L455,448 L455.5,448 L456,448 L456.5,448 L457,448 L457.5,448 L458,448 L458.5,448 L459,448 L459.5,448 L460,448 L460.5,448 L461,448 L461.5,448 L462,448 L462.5,448 L463,448 L463.5,448 L464,448 L464.5,448 L465,448 L465.5,448 L466,448 L466.5,448 L467,448 L467.5,448 L468,448 L468.5,448 L469,448 L469.5,448 L470,448 L470.5,448 L471,448 L471.5,448 L472,448 L472.5,448 L473,448 L473.5,448 L474,448 L474.5,448 L475,448 L475.5,448 L476,448 L476.5,448 L477,448 L477.5,448 L478,448 L478.5,448 L479,448 L479.5,448 L480,448 L480.5,448 L481,448 L481.5,448 L482,448 L482.5,448 L483,448 L483.5,448 L484,448 L484.5,448 L485,448 L485.5,448 L486,448 L486.5,448 L487,448 L487.5,448 L488,448 L488.5,448 L489,448 L489.5,448 L490,448 L490.5,448 L491,448 L491.5,448 L492,448 L492.5,448 L493,448 L493.5,448 L494,448 L494.5,448 L495,448 L495.5,448 L496,448 L496.5,448 L497,448 L497.5,448 L498,448 L498.5,448 L499,448 L499.5,448 L500,448 L500.5,448 L501,448 L501.5,448 L502,448 L502.5,448 L503,448 L503.5,448 L504,448 L504.5,448 L505,448 L505.5,448 L506,448 L506.5,448 L507,448 L507.5,448 L508,448 L508.5,448 L509,448 L509.5,448 L510,448 L510.5,448 L511,448 L511.5,448 L512,448 L512.5,448" fill="none" stroke="#F0E442" stroke-width="3"/>
<path d="M120.4,447.8 L120.9,447.8 L121.4,447.8 L121.9,447.8 L122.4,447.8 L122.9,447.8 L123.4,447.8 L123.9,447.8 L124.4,447.8 L124.9,447.8 L125.4,447.8 L125.9,447.8 L126.4,447.8 L126.9,447.8 L127.4,447.8 L127.9,447.8 L128.4,447.8 L128.9,447.8 L129.4,447.8 L129.9,447.8 L130.4,447.8 L130.9,447.8 L131.4,447.8 L131.9,447.8 L132.4,447.8 L132.9,447.8 L133.4,447.8 L133.9,447.8 L134.4,447.8 L134.9,447.8 L135.4,447.8 L135.9,447.8 L136.4,447.8 L136.9,447.8 L137.4,447.8 L137.9,447.8 L138.4,447.8 L138.9,447.8 L139.4,447.8 L139.9,447.8 L140.4,447.8 L140.9,447.8 L141.4,447.8 L141.9,447.8 L142.4,447.8 L142.9,447.8 L143.4,447.8 L143.9,447.8 L144.4,447.8 L144.9,447.8 L145.4,447.8 L145.9,447.8 L146.4,447.8 L146.9,447.8 L147.4,447.8 L147.9,447.8 L148.4,447.8 L148.9,447.8 L149.4,447.8 L149.9,447.8 L150.4,447.8 L150.9,447.8 L151.4,447.8 L151.9,447.8 L152.4,447.8 L152.9,447.8 L153.4,447.8 L153.9,447.8 L154.4,447.8 L154.9,447.8 L155.4,447.8 L155.9,447.8 L156.4,447.8 L156.9,447.8 L157.4,447.8 L157.9,447.8 L158.4,447.8 L158.9,447.8 L159.4,447.8 L159.9,447.8 L160.4,447.8 L160.9,447.8 L161.4,447.8 L161.9,447.8 L162.4,447.8 L162.9,447.8 L163.4,447.8 L163.9,447.8 L164.4,447.8 L164.9,447.8 L165.4,447.8 L165.9,447.8 L166.4,447.8 L166.9,447.8 L167.4,447.8 L167.9,447.8 L168.4,447.8 L168.9,447.8 L169.4,447.8 L169.9,447.8 L170.4,447.8 L170.9,447.8 L171.4,447.8 L171.9,447.8 L172.4,447.8 L172.9,447.8 L173.4,447.8 L173.9,447.8 L174.4,447.8 L174.9,447.8 L175.4,447.8 L175.9,447.8 L176.4,447.8 L176.9,447.8 L177.4,447.8 L177.9,447.8 L178.4,447.8 L178.9,447.8 L179.4,447.8 L179.9,447.8 L180.4,447.8 L180.9,447.8 L181.4,447.8 L181.9,447.8 L182.4,447.8 L182.9,447.8 L183.4,447.8 L183.9,447.8 L184.4,447.8 L184.9,447.8 L185.4,447.8 L185.9,447.8 L186.4,447.8 L186.9,447.8 L187.4,447.8 L187.9,447.8 L188.4,447.8 L188.9,447.8 L189.4,447.8 L189.9,447.8 L190.4,447.8 L190.9,447.8 L191.4,447.8 L191.9,447.8 L192.4,447.8 L192.9,447.8 L193.4,447.8 L193.9,447.8 L194.4,447.8 L194.9,447.8 L195.4,447.8 L195.9,447.8 L196.4,447.8 L196.9,447.8 L197.4,447.8 L197.9,447.8 L198.4,447.8 L198.9,447.8 L199.4,447.8 L199.9,447.8 L200.4,447.8 L200.9,447.8 L201.4,447.8 L201.9,447.8 L202.4,447.8 L202.9,447.8 L203.4,447.8 L203.9,447.8 L204.4,447.8 L204.9,447.8 L205.4,447.8 L205.9,447.8 L206.4,447.8 L206.9,447.8 L207.4,447.8 L207.9,447.8 L208.4,447.8 L208.9,447.8 L209.4,447.8 L209.9,447.8 L210.4,447.8 L210.9,447.8 L211.4,447.79 L211.9,447.79 L212.4,447.79 L212.9,447.79 L213.4,447.79 L213.9,447.79 L214.4,447.79 L214.9,447.78 L215.4,447.78 L215.9,447.78 L216.4,447.77 L216.9,447.77 L217.4,447.76 L217.9,447.76 L218.4,447.75 L218.9,447.74 L219.4,447.73 L219.9,447.72 L220.4,447.71 L220.9,447.7 L221.4,447.68 L221.9,447.66 L222.4,447.64 L222.9,447.62 L223.4,447.6 L223.9,447.57 L224.4,447.54 L224.9,447.5 L225.4,447.46 L225.9,447.41 L226.4,447.36 L226.9,447.3 L227.4,447.23 L227.9,447.16 L228.4,447.08 L228.9,446.99 L229.4,446.89 L229.9,446.78 L230.4,446.65 L230.9,446.51 L231.4,446.36 L231.9,446.19 L232.4,446.01 L232.9,445.8 L233.4,445.58 L233.9,445.33 L234.4,445.06 L234.9,444.77 L235.4,444.44 L235.9,444.09 L236.4,443.7 L236.9,443.28 L237.4,442.83 L237.9,442.33 L238.4,441.79 L238.9,441.21 L239.4,440.58 L239.9,439.9 L240.4,439.17 L240.9,438.37 L241.4,437.52 L241.9,436.61 L242.4,435.62 L242.9,434.57 L243.4,433.44 L243.9,432.24 L244.4,430.95 L244.9,429.57 L245.4,428.11 L245.9,426.55 L246.4,424.9 L246.9,423.15 L247.4,421.29 L247.9,419.32 L248.4,417.24 L248.9,415.04 L249.4,412.73 L249.9,410.29 L250.4,407.72 L250.9,405.03 L251.4,402.2 L251.9,399.24 L252.4,396.13 L252.9,392.89 L253.4,389.51 L253.9,385.98 L254.4,382.31 L254.9,378.49 L255.4,374.52 L255.9,370.4 L256.4,366.13 L256.9,361.72 L257.4,357.16 L257.9,352.45 L258.4,347.59 L258.9,342.59 L259.4,337.45 L259.9,332.17 L260.4,326.76 L260.9,321.21 L261.4,315.54 L261.9,309.75 L262.4,303.83 L262.9,297.81 L263.4,291.68 L263.9,285.45 L264.4,279.13 L264.9,272.73 L265.4,266.25 L265.9,259.7 L266.4,253.1 L266.9,246.44 L267.4,239.75 L267.9,233.03 L268.4,226.28 L268.9,219.53 L269.4,212.78 L269.9,206.04 L270.4,199.33 L270.9,192.66 L271.4,186.03 L271.9,179.46 L272.4,172.96 L272.9,166.55 L273.4,160.23 L273.9,154.01 L274.4,147.92 L274.9,141.95 L275.4,136.13 L275.9,130.46 L276.4,124.95 L276.9,119.62 L277.4,114.47 L277.9,109.52 L278.4,104.77 L278.9,100.24 L279.4,95.92 L279.9,91.84 L280.4,88 L280.9,84.41 L281.4,81.07 L281.9,77.98 L282.4,75.17 L282.9,72.62 L283.4,70.35 L283.9,68.35 L284.4,66.64 L284.9,65.21 L285.4,64.07 L285.9,63.22 L286.4,62.66 L286.9,62.38 L287.4,62.39 L287.9,62.69 L288.4,63.27 L288.9,64.13 L289.4,65.27 L289.9,66.69 L290.4,68.37 L290.9,70.32 L291.4,72.54 L291.9,75 L292.4,77.72 L292.9,80.67 L293.4,83.86 L293.9,87.28 L294.4,90.91 L294.9,94.76 L295.4,98.8 L295.9,103.04 L296.4,107.46 L296.9,112.06 L297.4,116.82 L297.9,121.73 L298.4,126.79 L298.9,131.98 L299.4,137.3 L299.9,142.73 L300.4,148.27 L300.9,153.9 L301.4,159.61 L301.9,165.41 L302.4,171.26 L302.9,177.17 L303.4,183.13 L303.9,189.12 L304.4,195.14 L304.9,201.18 L305.4,207.22 L305.9,213.27 L306.4,219.31 L306.9,225.34 L307.4,231.34 L307.9,237.32 L308.4,243.25 L308.9,249.14 L309.4,254.98 L309.9,260.77 L310.4,266.49 L310.9,272.14 L311.4,277.73 L311.9,283.23 L312.4,288.65 L312.9,293.99 L313.4,299.23 L313.9,304.39 L314.4,309.44 L314.9,314.4 L315.4,319.25 L315.9,324 L316.4,328.65 L316.9,333.19 L317.4,337.61 L317.9,341.93 L318.4,346.14 L318.9,350.24 L319.4,354.22 L319.9,358.1 L320.4,361.86 L320.9,365.51 L321.4,369.05 L321.9,372.48 L322.4,375.8 L322.9,379.01 L323.4,382.12 L323.9,385.11 L324.4,388.01 L324.9,390.8 L325.4,393.5 L325.9,396.09 L326.4,398.58 L326.9,400.99 L327.4,403.29 L327.9,405.51 L328.4,407.64 L328.9,409.68 L329.4,411.63 L329.9,413.51 L330.4,415.3 L330.9,417.02 L331.4,418.66 L331.9,420.23 L332.4,421.72 L332.9,423.15 L333.4,424.51 L333.9,425.81 L334.4,427.05 L334.9,428.22 L335.4,429.34 L335.9,430.41 L336.4,431.42 L336.9,432.38 L337.4,433.29 L337.9,434.15 L338.4,434.97 L338.9,435.75 L339.4,436.48 L339.9,437.18 L340.4,437.83 L340.9,438.45 L341.4,439.04 L341.9,439.59 L342.4,440.12 L342.9,440.61 L343.4,441.07 L343.9,441.51 L344.4,441.92 L344.9,442.31 L345.4,442.67 L345.9,443.01 L346.4,443.34 L346.9,443.64 L347.4,443.92 L347.9,444.19 L348.4,444.44 L348.9,444.67 L349.4,444.89 L349.9,445.09 L350.4,445.28 L350.9,445.46 L351.4,445.63 L351.9,445.78 L352.4,445.93 L352.9,446.06 L353.4,446.19 L353.9,446.31 L354.4,446.42 L354.9,446.52 L355.4,446.61 L355.9,446.7 L356.4,446.78 L356.9,446.86 L357.4,446.93 L357.9,447 L358.4,447.06 L358.9,447.11 L359.4,447.16 L359.9,447.21 L360.4,447.26 L360.9,447.3 L361.4,447.33 L361.9,447.37 L362.4,447.4 L362.9,447.43 L363.4,447.46 L363.9,447.48 L364.4,447.5 L364.9,447.52 L365.4,447.54 L365.9,447.56 L366.4,447.57 L366.9,447.59 L367.4,447.6 L367.9,447.61 L368.4,447.62 L368.9,447.63 L369.4,447.64 L369.9,447.64 L370.4,447.65 L370.9,447.65 L371.4,447.65 L371.9,447.66 L372.4,447.66 L372.9,447.66 L373.4,447.66 L373.9,447.66 L374.4,447.65 L374.9,447.65 L375.4,447.65 L375.9,447.64 L376.4,447.64 L376.9,447.63 L377.4,447.63 L377.9,447.62 L378.4,447.61 L378.9,447.6 L379.4,447.59 L379.9,447.59 L380.4,447.57 L380.9,447.56 L381.4,447.55 L381.9,447.54 L382.4,447.52 L382.9,447.51 L383.4,447.5 L383.9,447.48 L384.4,447.46 L384.9,447.44 L385.4,447.43 L385.9,447.41 L386.4,447.38 L386.9,447.36 L387.4,447.34 L387.9,447.32 L388.4,447.29 L388.9,447.27 L389.4,447.24 L389.9,447.21 L390.4,447.18 L390.9,447.15 L391.4,447.12 L391.9,447.08 L392.4,447.05 L392.9,447.01 L393.4,446.97 L393.9,446.94 L394.4,446.9 L394.9,446.85 L395.4,446.81 L395.9,446.76 L396.4,446.72 L396.9,446.67 L397.4,446.62 L397.9,446.57 L398.4,446.51 L398.9,446.46 L399.4,446.4 L399.9,446.34 L400.4,446.28 L400.9,446.22 L401.4,446.16 L401.9,446.09 L402.4,446.02 L402.9,445.95 L403.4,445.88 L403.9,445.8 L404.4,445.73 L404.9,445.65 L405.4,445.57 L405.9,445.49 L406.4,445.4 L406.9,445.32 L407.4,445.23 L407.9,445.14 L408.4,445.05 L408.9,444.95 L409.4,444.85 L409.9,444.75 L410.4,444.65 L410.9,444.55 L411.4,444.44 L411.9,444.34 L412.4,444.23 L412.9,444.12 L413.4,444 L413.9,443.89 L414.4,443.77 L414.9,443.65 L415.4,443.53 L415.9,443.41 L416.4,443.29 L416.9,443.16 L417.4,443.03 L417.9,442.9 L418.4,442.77 L418.9,442.64 L419.4,442.5 L419.9,442.37 L420.4,442.23 L420.9,442.09 L421.4,441.95 L421.9,441.81 L422.4,441.67 L422.9,441.53 L423.4,441.38 L423.9,441.24 L424.4,441.09 L424.9,440.95 L425.4,440.8 L425.9,440.66 L426.4,440.51 L426.9,440.36 L427.4,440.21 L427.9,440.06 L428.4,439.92 L428.9,439.77 L429.4,439.62 L429.9,439.47 L430.4,439.32 L430.9,439.18 L431.4,439.03 L431.9,438.89 L432.4,438.74 L432.9,438.6 L433.4,438.45 L433.9,438.31 L434.4,438.17 L434.9,438.03 L435.4,437.89 L435.9,437.76 L436.4,437.62 L436.9,437.49 L437.4,437.36 L437.9,437.23 L438.4,437.11 L438.9,436.98 L439.4,436.86 L439.9,436.74 L440.4,436.62 L440.9,436.51 L441.4,436.39 L441.9,436.29 L442.4,436.18 L442.9,436.08 L443.4,435.98 L443.9,435.88 L444.4,435.79 L444.9,435.69 L445.4,435.61 L445.9,435.52 L446.4,435.44 L446.9,435.37 L447.4,435.29 L447.9,435.23 L448.4,435.16 L448.9,435.1 L449.4,435.04 L449.9,434.99 L450.4,434.94 L450.9,434.89 L451.4,434.85 L451.9,434.81 L452.4,434.78 L452.9,434.75 L453.4,434.72 L453.9,434.7 L454.4,434.68 L454.9,434.67 L455.4,434.66 L455.9,434.66 L456.4,434.66 L456.9,434.66 L457.4,434.67 L457.9,434.68 L458.4,434.7 L458.9,434.72 L459.4,434.74 L459.9,434.77 L460.4,434.8 L460.9,434.84 L461.4,434.88 L461.9,434.92 L462.4,434.97 L462.9,435.02 L463.4,435.08 L463.9,435.14 L464.4,435.2 L464.9,435.26 L465.4,435.33 L465.9,435.41 L466.4,435.48 L466.9,435.56 L467.4,435.64 L467.9,435.73 L468.4,435.82 L468.9,435.91 L469.4,436 L469.9,436.1 L470.4,436.2 L470.9,436.3 L471.4,436.4 L471.9,436.51 L472.4,436.62 L472.9,436.73 L473.4,436.85 L473.9,436.96 L474.4,437.08 L474.9,437.2 L475.4,437.32 L475.9,437.44 L476.4,437.57 L476.9,437.69 L477.4,437.82 L477.9,437.95 L478.4,438.07 L478.9,438.21 L479.4,438.34 L479.9,438.47 L480.4,438.6 L480.9,438.73 L481.4,438.87 L481.9,439 L482.4,439.14 L482.9,439.27 L483.4,439.41 L483.9,439.54 L484.4,439.68 L484.9,439.82 L485.4,439.95 L485.9,440.09 L486.4,440.22 L486.9,440.36 L487.4,440.49 L487.9,440.63 L488.4,440.76 L488.9,440.89 L489.4,441.02 L489.9,441.16 L490.4,441.29 L490.9,441.42 L491.4,441.55 L491.9,441.67 L492.4,441.8 L492.9,441.93 L493.4,442.05 L493.9,442.18 L494.4,442.3 L494.9,442.42 L495.4,442.54 L495.9,442.66 L496.4,442.78 L496.9,442.89 L497.4,443.01 L497.9,443.12 L498.4,443.23 L498.9,443.34 L499.4,443.45 L499.9,443.56 L500.4,443.66 L500.9,443.77 L501.4,443.87 L501.9,443.97 L502.4,444.07 L502.9,444.17 L503.4,444.26 L503.9,444.36 L504.4,444.45 L504.9,444.54 L505.4,444.63 L505.9,444.72 L506.4,444.8 L506.9,444.89 L507.4,444.97 L507.9,445.05 L508.4,445.13 L508.9,445.21 L509.4,445.28 L509.9,445.36 L510.4,445.43 L510.9,445.5 L511.4,445.57 L511.9,445.64 L512.4,445.71 L512.9,445.77 L513.4,445.83 L513.9,445.9 L514.4,445.96 L514.9,446.02 L515.4,446.07 L515.9,446.13 L516.4,446.18 L516.9,446.24 L517.4,446.29 L517.9,446.34 L518.4,446.39 L518.9,446.44 L519.4,446.48 L519.9,446.53 L520.4,446.57 L520.9,446.61 L521.4,446.66 L521.9,446.7 L522.4,446.74 L522.9,446.77 L523.4,446.81 L523.9,446.85 L524.4,446.88 L524.9,446.91 L525.4,446.95 L525.9,446.98 L526.4,447.01 L526.9,447.04 L527.4,447.07 L527.9,447.1 L528.4,447.12 L528.9,447.15 L529.4,447.17 L529.9,447.2 L530.4,447.22 L530.9,447.24 L531.4,447.27 L531.9,447.29 L532.4,447.31 L532.9,447.33 L533.4,447.35 L533.9,447.37 L534.4,447.38 L534.9,447.4 L535.4,447.42 L535.9,447.43 L536.4,447.45 L536.9,447.46 L537.4,447.48 L537.9,447.49 L538.4,447.5 L538.9,447.52 L539.4,447.53 L539.9,447.54 L540.4,447.55 L540.9,447.56 L541.4,447.57 L541.9,447.58 L542.4,447.59 L542.9,447.6 L543.4,447.61 L543.9,447.62 L544.4,447.63 L544.9,447.63 L545.4,447.64 L545.9,447.65 L546.4,447.66 L546.9,447.66 L547.4,447.67 L547.9,447.68 L548.4,447.68 L548.9,447.69 L549.4,447.69 L549.9,447.7 L550.4,447.7 L550.9,447.71 L551.4,447.71 L551.9,447.72 L552.4,447.72 L552.9,447.72 L553.4,447.73 L553.9,447.73 L554.4,447.73 L554.9,447.74 L555.4,447.74 L555.9,447.74 L556.4,447.75 L556.9,447.75 L557.4,447.75 L557.9,447.75 L558.4,447.76 L558.9,447.76 L559.4,447.76 L559.9,447.76 L560.4,447.76 L560.9,447.77 L561.4,447.77 L561.9,447.77 L562.4,447.77 L562.9,447.77 L563.4,447.77 L563.9,447.78 L564.4,447.78 L564.9,447.78 L565.4,447.78 L565.9,447.78 L566.4,447.78 L566.9,447.78 L567.4,447.78 L567.9,447.78 L568.4,447.79 L568.9,447.79 L569.4,447.79 L569.9,447.79 L570.4,447.79 L570.9,447.79 L571.4,447.79 L571.9,447.79 L572.4,447.79 L572.9,447.79 L573.4,447.79 L573.9,447.79 L574.4,447.79 L574.9,447.79 L575.4,447.79 L575.9,447.79 L576.4,447.79 L576.9,447.79 L577.4,447.79 L577.9,447.8 L578.4,447.8 L578.9,447.8 L579.4,447.8 L579.9,447.8 L580.4,447.8 L580.9,447.8 L581.4,447.8 L581.9,447.8 L582.4,447.8 L582.9,447.8 L583.4,447.8 L583.9,447.8 L584.4,447.8 L584.9,447.8 L585.4,447.8 L585.9,447.8 L586.4,447.8 L586.9,447.8 L587.4,447.8 L587.9,447.8 L588.4,447.8 L588.9,447.8 L589.4,447.8 L589.9,447.8 L590.4,447.8 L590.9,447.8 L591.4,447.8 L591.9,447.8 L592.4,447.8 L592.9,447.8 L593.4,447.8 L593.9,447.8 L594.4,447.8 L594.9,447.8 L595.4,447.8 L595.9,447.8 L596.4,447.8 L596.9,447.8 L597.4,447.8 L597.9,447.8 L598.4,447.8 L598.9,447.8 L599.4,447.8 L599.9,447.8 L600.4,447.8 L600.9,447.8 L601.4,447.8 L601.9,447.8 L602.4,447.8 L602.9,447.8 L603.4,447.8 L603.9,447.8 L604.4,447.8 L604.9,447.8 L605.4,447.8 L605.9,447.8 L606.4,447.8 L606.9,447.8 L607.4,447.8 L607.9,447.8 L608.4,447.8 L608.9,447.8 L609.4,447.8 L609.9,447.8 L610.4,447.8 L610.9,447.8 L611.4,447.8 L611.9,447.8 L612.4,447.8 L612.9,447.8 L613.4,447.8 L613.9,447.8 L614.4,447.8 L614.9,447.8 L615.4,447.8 L615.9,447.8 L616.4,447.8 L616.9,447.8 L617.4,447.8 L617.9,447.8 L618.4,447.8 L618.9,447.8 L619.4,447.8 L619.9,447.8 L620.4,447.8 L620.9,447.8 L621.4,447.8 L621.9,447.8 L622.4,447.8 L622.9,447.8 L623.4,447.8 L623.9,447.8 L624.4,447.8 L624.9,447.8 L625.4,447.8 L625.9,447.8 L626.4,447.8 L626.9,447.8 L627.4,447.8 L627.9,447.8 L628.4,447.8 L628.9,447.8 L629.4,447.8 L629.9,447.8 L630.4,447.8 L630.9,447.8 L631.4,447.8 L631.9,447.8 L632.4,447.8 L632.9,447.8 L633.4,447.8 L633.9,447.8 L634.4,447.8 L634.9,447.8 L635.4,447.8 L635.9,447.8 L636.4,447.8 L636.9,447.8 L637.4,447.8 L637.9,447.8 L638.4,447.8 L638.9,447.8 L639.4,447.8 L639.9,447.8 L640.4,447.8 L640.9,447.8 L641.4,447.8 L641.9,447.8 L642.4,447.8 L642.9,447.8 L643.4,447.8 L643.9,447.8 L644.4,447.8 L644.9,447.8 L645.4,447.8 L645.9,447.8 L646.4,447.8 L646.9,447.8 L647.4,447.8 L647.9,447.8 L648.4,447.8 L648.9,447.8 L649.4,447.8 L649.9,447.8 L650.4,447.8 L650.9,447.8 L651.4,447.8 L651.9,447.8 L652.4,447.8 L652.9,447.8 L653.4,447.8 L653.9,447.8 L654.4,447.8 L654.9,447.8 L655.4,447.8 L655.9,447.8 L656.4,447.8 L656.9,447.8 L657.4,447.8 L657.9,447.8 L658.4,447.8 L658.9,447.8 L659.4,447.8 L659.9,447.8 L660.4,447.8 L660.9,447.8 L661.4,447.8 L661.9,447.8 L662.4,447.8 L662.9,447.8 L663.4,447.8 L663.9,447.8 L664.4,447.8 L664.9,447.8 L665.4,447.8 L665.9,447.8 L666.4,447.8 L666.9,447.8 L667.4,447.8 L667.9,447.8 L668.4,447.8 L668.9,447.8 L669.4,447.8 L669.9,447.8" fill="none" stroke="#000" stroke-width="3" stroke-linejoin="round"/>
<path d="M125.9,-5 C125.95,2.5 126.1,22.5 126.2,40 C126.3,57.5 126.35,80 126.5,100 C126.65,120 126.88,143.33 127.1,160 C127.32,176.67 127.53,183.33 127.8,200 C128.07,216.67 128.4,241.67 128.7,260 C129,278.33 129.33,296.67 129.6,310 C129.87,323.33 130.02,330 130.3,340 C130.58,350 130.95,362.58 131.3,370 C131.65,377.42 131.93,379.65 132.4,384.5 C132.87,389.35 133.38,394.25 134.1,399.1 C134.82,403.95 135.53,408.75 136.7,413.6 C137.87,418.45 139.52,424.55 141.1,428.2 C142.68,431.85 144.72,433.83 146.2,435.5 C147.68,437.17 148.3,437.37 150,438.2 C151.7,439.03 154.4,439.87 156.4,440.5 C158.4,441.13 159.82,441.58 162,442 C164.18,442.42 166.5,442.68 169.5,443 C172.5,443.32 176.42,443.6 180,443.9 C183.58,444.2 186.73,444.58 191,444.8 C195.27,445.02 200.43,445.17 205.6,445.2 C210.77,445.23 217.93,445.13 222,445 C226.07,444.87 227.18,444.67 230,444.4 C232.82,444.13 236.73,443.53 238.9,443.4 C241.07,443.27 241.43,443.37 243,443.6 C244.57,443.83 246.63,444.37 248.3,444.8 C249.97,445.23 251.28,445.75 253,446.2 C254.72,446.65 256.77,447.22 258.6,447.5 C260.43,447.78 261.27,447.82 264,447.9 C266.73,447.98 270.92,447.98 275,448 C279.08,448.02 286.25,448 288.5,448" fill="none" stroke="#E05A04" stroke-width="3"/>
<line x1="288.7" y1="0" x2="288.7" y2="470" stroke="#222" stroke-width="1.4" stroke-dasharray="4.5 3.9"/>
<line x1="457.0" y1="0" x2="457.0" y2="470" stroke="#222" stroke-width="1.4" stroke-dasharray="4.5 3.9"/>
</g>
<rect x="442.7" y="22.1" width="204" height="124" fill="#fff" stroke="#3a3a3a" stroke-width="1.2"/><line x1="457.4" y1="43.1" x2="492.4" y2="43.1" stroke="#55B5EB" stroke-width="3"/><text x="506.4" y="49.1" font-size="17.3" text-anchor="start">observed</text><line x1="457.4" y1="64.1" x2="492.4" y2="64.1" stroke="#000" stroke-width="3"/><text x="506.4" y="70.1" font-size="17.3" text-anchor="start">full model</text><line x1="457.4" y1="85.1" x2="492.4" y2="85.1" stroke="#F0E442" stroke-width="3"/><text x="506.4" y="91.1" font-size="17.3" text-anchor="start">unique sequence</text><line x1="457.4" y1="105.5" x2="492.4" y2="105.5" stroke="#E05A04" stroke-width="3"/><text x="506.4" y="111.5" font-size="17.3" text-anchor="start">errors</text><line x1="457.4" y1="126.5" x2="492.4" y2="126.5" stroke="#000" stroke-width="3" stroke-dasharray="10.6 7"/><text x="506.4" y="132.5" font-size="17.3" text-anchor="start">kmer-peaks</text>
<rect x="99.3" y="5.2" width="563.8" height="459.3" fill="none" stroke="#3a3a3a" stroke-width="1.4"/>
<line x1="88" y1="448.3" x2="99.3" y2="448.3" stroke="#3a3a3a" stroke-width="1.4"/>
<text x="74" y="448.3" font-size="20" text-anchor="middle" transform="rotate(-90 74 448.3)">0e+00</text>
<line x1="88" y1="355.1" x2="99.3" y2="355.1" stroke="#3a3a3a" stroke-width="1.4"/>
<text x="74" y="355.1" font-size="20" text-anchor="middle" transform="rotate(-90 74 355.1)">1e+06</text>
<line x1="88" y1="261.9" x2="99.3" y2="261.9" stroke="#3a3a3a" stroke-width="1.4"/>
<text x="74" y="261.9" font-size="20" text-anchor="middle" transform="rotate(-90 74 261.9)">2e+06</text>
<line x1="88" y1="168.7" x2="99.3" y2="168.7" stroke="#3a3a3a" stroke-width="1.4"/>
<text x="74" y="168.7" font-size="20" text-anchor="middle" transform="rotate(-90 74 168.7)">3e+06</text>
<line x1="88" y1="75.5" x2="99.3" y2="75.5" stroke="#3a3a3a" stroke-width="1.4"/>
<text x="74" y="75.5" font-size="20" text-anchor="middle" transform="rotate(-90 74 75.5)">4e+06</text>
<line x1="120.4" y1="464.5" x2="120.4" y2="475.5" stroke="#3a3a3a" stroke-width="1.4"/>
<text x="120.4" y="502.6" font-size="20" text-anchor="middle">0</text>
<line x1="219.98" y1="464.5" x2="219.98" y2="475.5" stroke="#3a3a3a" stroke-width="1.4"/>
<text x="219.98" y="502.6" font-size="20" text-anchor="middle">100</text>
<line x1="319.56" y1="464.5" x2="319.56" y2="475.5" stroke="#3a3a3a" stroke-width="1.4"/>
<text x="319.56" y="502.6" font-size="20" text-anchor="middle">200</text>
<line x1="419.14" y1="464.5" x2="419.14" y2="475.5" stroke="#3a3a3a" stroke-width="1.4"/>
<text x="419.14" y="502.6" font-size="20" text-anchor="middle">300</text>
<line x1="518.72" y1="464.5" x2="518.72" y2="475.5" stroke="#3a3a3a" stroke-width="1.4"/>
<text x="518.72" y="502.6" font-size="20" text-anchor="middle">400</text>
<line x1="618.3" y1="464.5" x2="618.3" y2="475.5" stroke="#3a3a3a" stroke-width="1.4"/>
<text x="618.3" y="502.6" font-size="20" text-anchor="middle">500</text>
<text x="339.5" y="543.7" font-size="28.5" text-anchor="middle">Coverage</text>
<text x="21" y="241.5" font-size="28.3" text-anchor="middle" transform="rotate(-90 21 241.5)">Frequency</text>
<text x="136" y="38.8" font-size="28.5"><tspan font-style="italic">A.</tspan> turgidum</text>
<g clip-path="url(#cr)">
<rect x="785.5" y="-10" width="700" height="462.6" fill="#d3d3d3" stroke="#333" stroke-width="1"/>
<path d="M786.1,452.6 L786.1,-10 L797.6,-5 L797.63,2.13 L797.66,12.04 L797.71,23.75 L797.76,36.3 L797.82,48.7 L797.9,60 L797.99,70.29 L798.1,80.37 L798.21,90.31 L798.34,100.19 L798.47,110.06 L798.6,120 L798.74,129.88 L798.89,139.63 L799.04,149.38 L799.2,159.26 L799.35,169.42 L799.5,180 L799.64,191.46 L799.78,203.78 L799.91,216.38 L800.04,228.67 L800.17,240.07 L800.3,250 L800.42,258.33 L800.52,265.5 L800.62,271.77 L800.73,277.44 L800.85,282.75 L801,288 L801.18,292.99 L801.37,297.46 L801.58,301.59 L801.81,305.54 L802.05,309.49 L802.3,313.6 L802.57,317.84 L802.86,322.08 L803.16,326.31 L803.47,330.53 L803.78,334.76 L804.1,339 L804.43,343.36 L804.77,347.86 L805.12,352.37 L805.46,356.74 L805.79,360.83 L806.1,364.5 L806.38,367.69 L806.64,370.51 L806.89,373.05 L807.13,375.41 L807.37,377.69 L807.6,380 L807.81,382.28 L808,384.44 L808.18,386.52 L808.38,388.56 L808.61,390.61 L808.9,392.7 L809.24,394.83 L809.63,396.96 L810.04,399.1 L810.5,401.24 L810.98,403.37 L811.5,405.5 L812.06,407.7 L812.68,409.97 L813.32,412.25 L813.99,414.44 L814.65,416.45 L815.3,418.2 L815.92,419.63 L816.52,420.8 L817.12,421.79 L817.74,422.7 L818.39,423.61 L819.1,424.6 L819.86,425.68 L820.66,426.79 L821.49,427.89 L822.36,428.97 L823.26,430.01 L824.2,431 L825.18,431.92 L826.19,432.8 L827.24,433.64 L828.33,434.44 L829.45,435.23 L830,435.4 L830.5,435.73 L831,436.06 L831.5,436.39 L832,436.72 L832.5,437.05 L833,437.37 L833.5,437.68 L834,437.98 L834.5,438.27 L835,438.55 L835.5,438.82 L836,439.06 L836.5,439.3 L837,439.52 L837.5,439.72 L838,439.92 L838.5,440.1 L839,440.26 L839.5,440.42 L840,440.26 L840.5,440.41 L841,440.55 L841.5,440.7 L842,440.83 L842.5,440.97 L843,441.11 L843.5,441.24 L844,441.36 L844.5,441.49 L845,441.61 L845.5,441.72 L846,441.82 L846.5,441.93 L847,442.02 L847.5,442.1 L848,442.18 L848.5,442.26 L849,442.31 L849.5,442.36 L850,442.4 L850.5,442.43 L851,442.44 L851.5,442.45 L852,442.45 L852.5,442.42 L853,442.38 L853.5,442.33 L854,442.27 L854.5,442.18 L855,442.09 L855.5,441.98 L856,441.84 L856.5,441.69 L857,441.52 L857.5,441.34 L858,441.13 L858.5,440.9 L859,440.67 L859.5,440.41 L860,440.12 L860.5,439.83 L861,439.51 L861.5,439.18 L862,438.81 L862.5,438.44 L863,438.04 L863.5,437.63 L864,437.2 L864.5,436.74 L865,436.28 L865.5,435.79 L866,435.28 L866.5,434.76 L867,434.22 L867.5,433.66 L868,433.08 L868.5,432.49 L869,431.87 L869.5,431.24 L870,430.59 L870.5,429.93 L871,429.24 L871.5,428.54 L872,427.81 L872.5,427.06 L873,426.29 L873.5,425.48 L874,424.66 L874.5,423.81 L875,422.93 L875.5,422.02 L876,421.08 L876.5,420.12 L877,419.12 L877.5,418.09 L878,417.03 L878.5,415.93 L879,414.8 L879.5,413.62 L880,412.42 L880.5,411.17 L881,409.86 L881.5,408.51 L882,407.11 L882.5,405.64 L883,404.12 L883.5,402.53 L884,400.87 L884.5,399.16 L885,397.37 L885.5,395.53 L886,393.63 L886.5,391.69 L887,389.7 L887.5,387.69 L888,385.67 L888.5,383.62 L889,381.57 L889.5,379.5 L890,377.41 L890.5,375.31 L891,373.19 L891.5,371.05 L892,368.88 L892.5,366.7 L893,364.49 L893.5,362.25 L894,359.99 L894.5,357.71 L895,355.4 L895.5,353.06 L896,350.69 L896.5,348.3 L897,345.87 L897.5,343.4 L898,340.91 L898.5,338.39 L899,335.83 L899.5,333.23 L900,330.61 L900.5,327.94 L901,325.24 L901.5,322.52 L902,319.76 L902.5,316.97 L903,314.15 L903.5,311.3 L904,308.41 L904.5,305.49 L905,302.52 L905.5,299.51 L906,296.43 L906.5,293.27 L907,290.04 L907.5,286.73 L908,283.35 L908.5,279.91 L909,276.39 L909.5,272.81 L910,269.15 L910.5,265.43 L911,261.63 L911.5,257.77 L912,253.84 L912.5,249.85 L913,245.8 L913.5,241.71 L914,237.58 L914.5,233.42 L915,229.23 L915.5,225.03 L916,220.82 L916.5,216.61 L917,212.4 L917.5,208.21 L918,204.03 L918.5,199.9 L919,195.8 L919.5,191.75 L920,187.75 L920.5,183.83 L921,179.95 L921.5,176.15 L922,172.41 L922.5,168.74 L923,165.13 L923.5,161.6 L924,158.11 L924.5,154.7 L925,151.35 L925.5,148.07 L926,144.84 L926.5,141.69 L927,138.6 L927.5,135.57 L928,132.59 L928.5,129.68 L929,126.81 L929.5,124.02 L930,121.27 L930.5,118.58 L931,115.94 L931.5,113.36 L932,110.84 L932.5,108.36 L933,105.94 L933.5,103.56 L934,101.23 L934.5,98.95 L935,96.72 L935.5,94.53 L936,92.39 L936.5,90.29 L937,88.24 L937.5,86.22 L938,84.25 L938.5,82.34 L939,80.48 L939.5,78.68 L940,76.94 L940.5,75.25 L941,73.62 L941.5,72.05 L942,70.53 L942.5,69.12 L943,67.89 L943.5,66.86 L944,65.98 L944.5,65.23 L945,64.58 L945.5,64 L946,63.5 L946.5,63.07 L947,62.71 L947.5,62.44 L948,62.29 L948.5,62.31 L949,62.56 L949.5,63.09 L950,63.86 L950.5,64.76 L951,65.69 L951.5,66.64 L952,67.62 L952.5,68.63 L953,69.66 L953.5,70.73 L954,71.82 L954.5,73.25 L955,74.42 L955.5,75.62 L956,76.85 L956.5,78.13 L957,79.44 L957.5,80.79 L958,82.19 L958.5,83.63 L959,85.11 L959.5,86.64 L960,88.22 L960.5,89.84 L961,91.51 L961.5,93.22 L962,94.98 L962.5,96.79 L963,98.64 L963.5,100.53 L964,102.45 L964.5,104.41 L965,106.39 L965.5,108.4 L966,110.44 L966.5,112.51 L967,114.61 L967.5,116.74 L968,118.91 L968.5,121.1 L969,123.33 L969.5,125.59 L970,127.88 L970.5,130.21 L971,132.58 L971.5,134.98 L972,137.41 L972.5,139.89 L973,142.4 L973.5,144.95 L974,147.54 L974.5,150.17 L975,152.84 L975.5,155.55 L976,158.3 L976.5,161.08 L977,163.91 L977.5,166.78 L978,169.69 L978.5,172.64 L979,175.62 L979.5,178.64 L980,181.7 L980.5,184.8 L981,187.93 L981.5,191.09 L982,194.28 L982.5,197.5 L983,200.75 L983.5,204.02 L984,207.31 L984.5,210.62 L985,213.94 L985.5,217.28 L986,220.62 L986.5,223.97 L987,227.32 L987.5,230.66 L988,234 L988.5,237.34 L989,240.66 L989.5,243.96 L990,247.24 L990.5,250.51 L991,253.75 L991.5,256.96 L992,260.15 L992.5,263.3 L993,266.42 L993.5,269.5 L994,272.55 L994.5,275.56 L995,278.54 L995.5,281.47 L996,284.37 L996.5,287.22 L997,290.04 L997.5,292.81 L998,295.55 L998.5,298.24 L999,300.89 L999.5,303.5 L1000,306.08 L1000.5,308.61 L1001,311.11 L1001.5,313.57 L1002,315.99 L1002.5,318.37 L1003,320.72 L1003.5,323.03 L1004,325.3 L1004.5,327.55 L1005,329.75 L1005.5,331.93 L1006,334.07 L1006.5,336.18 L1007,338.27 L1007.5,340.32 L1008,342.34 L1008.5,344.33 L1009,346.29 L1009.5,348.23 L1010,350.14 L1010.5,352.02 L1011,353.88 L1011.5,355.72 L1012,357.52 L1012.5,359.31 L1013,361.07 L1013.5,362.81 L1014,364.53 L1014.5,366.23 L1015,367.92 L1015.5,369.59 L1016,371.25 L1016.5,372.9 L1017,374.54 L1017.5,376.17 L1018,377.79 L1018.5,379.41 L1019,381.02 L1019.5,382.63 L1020,384.23 L1020.5,385.84 L1021,387.44 L1021.5,389.04 L1022,390.65 L1022.5,392.26 L1023,393.87 L1023.5,395.48 L1024,397.11 L1024.5,398.73 L1025,400.37 L1025.5,402.01 L1026,403.64 L1026.5,405.25 L1027,406.83 L1027.5,408.38 L1028,409.87 L1028.5,411.31 L1029,412.69 L1029.5,414.01 L1030,415.27 L1030.5,416.47 L1031,417.62 L1031.5,418.7 L1032,419.74 L1032.5,420.72 L1033,421.65 L1033.5,422.54 L1034,423.38 L1034.5,424.18 L1035,424.93 L1035.5,425.66 L1036,426.34 L1036.5,426.99 L1037,427.61 L1037.5,428.21 L1038,428.77 L1038.5,429.3 L1039,429.81 L1039.5,430.3 L1040,430.76 L1040.5,431.21 L1041,431.63 L1041.5,432.03 L1042,432.42 L1042.5,432.8 L1043,433.16 L1043.5,433.5 L1044,433.83 L1044.5,434.15 L1045,434.46 L1045.5,434.76 L1046,435.04 L1046.5,435.32 L1047,435.58 L1047.5,435.84 L1048,436.09 L1048.5,436.33 L1049,436.56 L1049.5,436.78 L1050,436.99 L1050.5,437.2 L1051,437.4 L1051.5,437.59 L1052,437.77 L1052.5,437.95 L1053,438.12 L1053.5,438.28 L1054,438.44 L1054.5,438.59 L1055,438.74 L1055.5,438.88 L1056,439.01 L1056.5,439.14 L1057,439.26 L1057.5,439.38 L1058,439.49 L1058.5,439.6 L1059,439.7 L1059.5,439.79 L1060,439.88 L1060.5,439.96 L1061,440.04 L1061.5,440.12 L1062,440.19 L1062.5,440.25 L1063,440.31 L1063.5,440.37 L1064,440.42 L1064.5,440.46 L1065,440.5 L1065.5,440.54 L1066,440.57 L1066.5,440.59 L1067,440.61 L1067.5,440.63 L1068,440.65 L1068.5,440.66 L1069,440.66 L1069.5,440.66 L1070,440.66 L1070.5,440.65 L1071,440.64 L1071.5,440.63 L1072,440.62 L1072.5,440.6 L1073,440.57 L1073.5,440.55 L1074,440.52 L1074.5,440.48 L1075,440.45 L1075.5,440.41 L1076,440.37 L1076.5,440.33 L1077,440.28 L1077.5,440.23 L1078,440.18 L1078.5,440.13 L1079,440.07 L1079.5,440.02 L1080,439.96 L1080.5,439.89 L1081,439.83 L1081.5,439.77 L1082,439.7 L1082.5,439.63 L1083,439.56 L1083.5,439.49 L1084,439.42 L1084.5,439.35 L1085,439.27 L1085.5,439.2 L1086,439.12 L1086.5,439.04 L1087,438.97 L1087.5,438.89 L1088,438.81 L1088.5,438.73 L1089,438.65 L1089.5,438.57 L1090,438.49 L1090.5,438.41 L1091,438.33 L1091.5,438.25 L1092,438.17 L1092.5,438.09 L1093,438.02 L1093.5,437.94 L1094,437.86 L1094.5,437.78 L1095,437.71 L1095.5,437.63 L1096,437.55 L1096.5,437.48 L1097,437.4 L1097.5,437.33 L1098,437.26 L1098.5,437.19 L1099,437.12 L1099.5,437.05 L1100,436.98 L1100.5,436.91 L1101,436.85 L1101.5,436.78 L1102,436.72 L1102.5,436.66 L1103,436.6 L1103.5,436.54 L1104,436.48 L1104.5,436.43 L1105,436.37 L1105.5,436.32 L1106,436.27 L1106.5,436.22 L1107,436.17 L1107.5,436.13 L1108,436.08 L1108.5,436.04 L1109,436 L1109.5,435.96 L1110,435.92 L1110.5,435.89 L1111,435.86 L1111.5,435.82 L1112,435.8 L1112.5,435.77 L1113,435.74 L1113.5,435.72 L1114,435.7 L1114.5,435.68 L1115,435.66 L1115.5,435.64 L1116,435.63 L1116.5,435.62 L1117,435.61 L1117.5,435.6 L1118,435.6 L1118.5,435.59 L1119,435.59 L1119.5,435.59 L1120,435.6 L1120.5,435.6 L1121,435.61 L1121.5,435.62 L1122,435.63 L1122.5,435.64 L1123,435.66 L1123.5,435.68 L1124,435.7 L1124.5,435.72 L1125,435.74 L1125.5,435.77 L1126,435.79 L1126.5,435.82 L1127,435.86 L1127.5,435.89 L1128,435.92 L1128.5,435.96 L1129,436 L1129.5,436.04 L1130,436.09 L1130.5,436.13 L1131,436.18 L1131.5,436.23 L1132,436.28 L1132.5,436.33 L1133,436.38 L1133.5,436.44 L1134,436.5 L1134.5,436.56 L1135,436.62 L1135.5,436.68 L1136,436.75 L1136.5,436.81 L1137,436.88 L1137.5,436.95 L1138,437.02 L1138.5,437.09 L1139,437.16 L1139.5,437.24 L1140,437.32 L1140.5,437.39 L1141,437.47 L1141.5,437.55 L1142,437.64 L1142.5,437.72 L1143,437.8 L1143.5,437.89 L1144,437.98 L1144.5,438.06 L1145,438.15 L1145.5,438.24 L1146,438.34 L1146.5,438.43 L1147,438.52 L1147.5,438.62 L1148,438.71 L1148.5,438.81 L1149,438.9 L1149.5,439 L1150,439.1 L1150.5,439.2 L1151,439.3 L1151.5,439.4 L1152,439.5 L1152.5,439.61 L1153,439.71 L1153.5,439.81 L1154,439.92 L1154.5,440.02 L1155,440.13 L1155.5,440.23 L1156,440.34 L1156.5,440.44 L1157,440.55 L1157.5,440.66 L1158,440.77 L1158.5,440.87 L1159,440.98 L1159.5,441.09 L1160,441.2 L1160.5,441.31 L1161,441.42 L1161.5,441.52 L1162,441.63 L1162.5,441.74 L1163,441.85 L1163.5,441.96 L1164,442.07 L1164.5,442.18 L1165,442.29 L1165.5,442.4 L1166,442.5 L1166.5,442.61 L1167,442.72 L1167.5,442.83 L1168,442.94 L1168.5,443.05 L1169,443.15 L1169.5,443.26 L1170,443.37 L1170.5,443.47 L1171,443.58 L1171.5,443.69 L1172,443.79 L1172.5,443.9 L1173,444 L1173.5,444.11 L1174,444.21 L1174.5,444.31 L1175,444.42 L1175.5,444.52 L1176,444.62 L1176.5,444.72 L1177,444.82 L1177.5,444.92 L1178,445.02 L1178.5,445.12 L1179,445.22 L1179.5,445.32 L1180,445.41 L1180.5,445.51 L1181,445.61 L1181.5,445.7 L1182,445.8 L1182.5,445.89 L1183,445.98 L1183.5,446.07 L1184,446.17 L1184.5,446.26 L1185,446.35 L1185.5,446.44 L1186,446.52 L1186.5,446.61 L1187,446.7 L1187.5,446.79 L1188,446.87 L1188.5,446.96 L1189,447.04 L1189.5,447.12 L1190,447.21 L1190.5,447.29 L1191,447.37 L1191.5,447.45 L1192,447.53 L1192.5,447.6 L1193,447.68 L1193.5,447.76 L1194,447.83 L1194.5,447.91 L1195,447.98 L1195.5,448.06 L1196,448.13 L1196.5,448.2 L1197,448.27 L1197.5,448.34 L1198,448.41 L1198.5,448.48 L1199,448.54 L1199.5,448.61 L1200,448.68 L1200.5,448.74 L1201,448.81 L1201.5,448.87 L1202,448.93 L1202.5,448.99 L1203,449.05 L1203.5,449.11 L1204,449.17 L1204.5,449.23 L1205,449.29 L1205.5,449.34 L1206,449.4 L1206.5,449.46 L1207,449.51 L1207.5,449.56 L1208,449.62 L1208.5,449.67 L1209,449.72 L1209.5,449.77 L1210,449.82 L1210.5,449.87 L1211,449.92 L1211.5,449.96 L1212,450.01 L1212.5,450.06 L1213,450.1 L1213.5,450.15 L1214,450.19 L1214.5,450.23 L1215,450.28 L1215.5,450.32 L1216,450.36 L1216.5,450.4 L1217,450.44 L1217.5,450.48 L1218,450.52 L1218.5,450.55 L1219,450.59 L1219.5,450.63 L1220,450.66 L1220.5,450.7 L1221,450.73 L1221.5,450.77 L1222,450.8 L1222.5,450.83 L1223,450.86 L1223.5,450.9 L1224,450.93 L1224.5,450.96 L1225,450.99 L1225.5,451.02 L1226,451.05 L1226.5,451.07 L1227,451.1 L1227.5,451.13 L1228,451.16 L1228.5,451.18 L1229,451.21 L1229.5,451.23 L1230,451.26 L1230.5,451.28 L1231,451.31 L1231.5,451.33 L1232,451.35 L1232.5,451.37 L1233,451.4 L1233.5,451.42 L1234,451.44 L1234.5,451.46 L1235,451.48 L1235.5,451.5 L1236,451.52 L1236.5,451.54 L1237,451.55 L1237.5,451.57 L1238,451.59 L1238.5,451.61 L1239,451.63 L1239.5,451.64 L1240,451.66 L1240.5,451.67 L1241,451.69 L1241.5,451.7 L1242,451.72 L1242.5,451.73 L1243,451.75 L1243.5,451.76 L1244,451.78 L1244.5,451.79 L1245,451.8 L1245.5,451.82 L1246,451.83 L1246.5,451.84 L1247,451.85 L1247.5,451.86 L1248,451.87 L1248.5,451.89 L1249,451.9 L1249.5,451.91 L1250,451.92 L1250.5,451.93 L1251,451.94 L1251.5,451.95 L1252,451.96 L1252.5,451.97 L1253,451.97 L1253.5,451.98 L1254,451.99 L1254.5,452 L1255,452.01 L1255.5,452.02 L1256,452.02 L1256.5,452.03 L1257,452.04 L1257.5,452.05 L1258,452.05 L1258.5,452.06 L1259,452.07 L1259.5,452.07 L1260,452.08 L1260.5,452.09 L1261,452.09 L1261.5,452.1 L1262,452.1 L1262.5,452.11 L1263,452.11 L1263.5,452.12 L1264,452.12 L1264.5,452.13 L1265,452.13 L1265.5,452.14 L1266,452.14 L1266.5,452.15 L1267,452.15 L1267.5,452.16 L1268,452.16 L1268.5,452.17 L1269,452.17 L1269.5,452.17 L1270,452.18 L1270.5,452.18 L1271,452.18 L1271.5,452.19 L1272,452.19 L1272.5,452.19 L1273,452.2 L1273.5,452.2 L1274,452.2 L1274.5,452.21 L1275,452.21 L1275.5,452.21 L1276,452.21 L1276.5,452.22 L1277,452.22 L1277.5,452.22 L1278,452.22 L1278.5,452.23 L1279,452.23 L1279.5,452.23 L1280,452.23 L1280.5,452.23 L1281,452.24 L1281.5,452.24 L1282,452.24 L1282.5,452.24 L1283,452.24 L1283.5,452.25 L1284,452.25 L1284.5,452.25 L1285,452.25 L1285.5,452.25 L1286,452.25 L1286.5,452.26 L1287,452.26 L1287.5,452.26 L1288,452.26 L1288.5,452.26 L1289,452.26 L1289.5,452.26 L1290,452.26 L1290.5,452.27 L1291,452.27 L1291.5,452.27 L1292,452.27 L1292.5,452.27 L1293,452.27 L1293.5,452.27 L1294,452.27 L1294.5,452.27 L1295,452.27 L1295.5,452.28 L1296,452.28 L1296.5,452.28 L1297,452.28 L1297.5,452.28 L1298,452.28 L1298.5,452.28 L1299,452.28 L1299.5,452.28 L1300,452.28 L1300.5,452.28 L1301,452.28 L1301.5,452.28 L1302,452.28 L1302.5,452.28 L1303,452.29 L1303.5,452.29 L1304,452.29 L1304.5,452.29 L1305,452.29 L1305.5,452.29 L1306,452.29 L1306.5,452.29 L1307,452.29 L1307.5,452.29 L1308,452.29 L1308.5,452.29 L1309,452.29 L1309.5,452.29 L1310,452.29 L1310.5,452.29 L1311,452.29 L1311.5,452.29 L1312,452.29 L1312.5,452.29 L1313,452.29 L1313.5,452.29 L1314,452.29 L1314.5,452.29 L1315,452.29 L1315.5,452.29 L1316,452.29 L1316.5,452.29 L1317,452.29 L1317.5,452.29 L1318,452.29 L1318.5,452.3 L1319,452.3 L1319.5,452.3 L1320,452.3 L1320.5,452.3 L1321,452.3 L1321.5,452.3 L1322,452.3 L1322.5,452.3 L1323,452.3 L1323.5,452.3 L1324,452.3 L1324.5,452.3 L1325,452.3 L1325.5,452.3 L1326,452.3 L1326.5,452.3 L1327,452.3 L1327.5,452.3 L1328,452.3 L1328.5,452.3 L1329,452.3 L1329.5,452.3 L1330,452.3 L1330.5,452.3 L1331,452.3 L1331.5,452.3 L1332,452.3 L1332.5,452.3 L1333,452.3 L1333.5,452.3 L1334,452.3 L1334.5,452.3 L1335,452.6Z" fill="#e4dfe3"/>
<g clip-path="url(#robs)" fill="#55B5EB"><rect x="789.12" y="-10" width="2.2" height="480"/><rect x="794.54" y="-10" width="2.2" height="480"/><rect x="799.96" y="-10" width="2.2" height="480"/><rect x="805.38" y="-10" width="2.2" height="480"/><rect x="810.8" y="-10" width="2.2" height="480"/><rect x="816.22" y="-10" width="2.2" height="480"/><rect x="821.64" y="-10" width="2.2" height="480"/><rect x="827.06" y="-10" width="2.2" height="480"/><rect x="832.48" y="-10" width="2.2" height="480"/><rect x="837.9" y="-10" width="2.2" height="480"/><rect x="843.32" y="-10" width="2.2" height="480"/><rect x="848.74" y="-10" width="2.2" height="480"/><rect x="854.16" y="-10" width="2.2" height="480"/><rect x="859.58" y="-10" width="2.2" height="480"/><rect x="865" y="-10" width="2.2" height="480"/><rect x="870.42" y="-10" width="2.2" height="480"/><rect x="875.84" y="-10" width="2.2" height="480"/><rect x="881.26" y="-10" width="2.2" height="480"/><rect x="886.68" y="-10" width="2.2" height="480"/><rect x="892.1" y="-10" width="2.2" height="480"/><rect x="897.52" y="-10" width="2.2" height="480"/><rect x="902.94" y="-10" width="2.2" height="480"/><rect x="908.36" y="-10" width="2.2" height="480"/><rect x="913.78" y="-10" width="2.2" height="480"/><rect x="919.2" y="-10" width="2.2" height="480"/><rect x="924.62" y="-10" width="2.2" height="480"/><rect x="930.04" y="-10" width="2.2" height="480"/><rect x="935.46" y="-10" width="2.2" height="480"/><rect x="940.88" y="-10" width="2.2" height="480"/><rect x="946.3" y="-10" width="2.2" height="480"/><rect x="951.72" y="-10" width="2.2" height="480"/><rect x="957.14" y="-10" width="2.2" height="480"/><rect x="962.56" y="-10" width="2.2" height="480"/><rect x="967.98" y="-10" width="2.2" height="480"/><rect x="973.4" y="-10" width="2.2" height="480"/><rect x="978.82" y="-10" width="2.2" height="480"/><rect x="984.24" y="-10" width="2.2" height="480"/><rect x="989.66" y="-10" width="2.2" height="480"/><rect x="995.08" y="-10" width="2.2" height="480"/><rect x="1000.5" y="-10" width="2.2" height="480"/><rect x="1005.92" y="-10" width="2.2" height="480"/><rect x="1011.34" y="-10" width="2.2" height="480"/><rect x="1016.76" y="-10" width="2.2" height="480"/><rect x="1022.18" y="-10" width="2.2" height="480"/><rect x="1027.6" y="-10" width="2.2" height="480"/><rect x="1033.02" y="-10" width="2.2" height="480"/><rect x="1038.44" y="-10" width="2.2" height="480"/><rect x="1043.86" y="-10" width="2.2" height="480"/><rect x="1049.28" y="-10" width="2.2" height="480"/><rect x="1054.7" y="-10" width="2.2" height="480"/><rect x="1060.12" y="-10" width="2.2" height="480"/><rect x="1065.54" y="-10" width="2.2" height="480"/><rect x="1070.96" y="-10" width="2.2" height="480"/><rect x="1076.38" y="-10" width="2.2" height="480"/><rect x="1081.8" y="-10" width="2.2" height="480"/><rect x="1087.22" y="-10" width="2.2" height="480"/><rect x="1092.64" y="-10" width="2.2" height="480"/><rect x="1098.06" y="-10" width="2.2" height="480"/><rect x="1103.48" y="-10" width="2.2" height="480"/><rect x="1108.9" y="-10" width="2.2" height="480"/><rect x="1114.32" y="-10" width="2.2" height="480"/><rect x="1119.74" y="-10" width="2.2" height="480"/><rect x="1125.16" y="-10" width="2.2" height="480"/><rect x="1130.58" y="-10" width="2.2" height="480"/><rect x="1136" y="-10" width="2.2" height="480"/><rect x="1141.42" y="-10" width="2.2" height="480"/><rect x="1146.84" y="-10" width="2.2" height="480"/><rect x="1152.26" y="-10" width="2.2" height="480"/><rect x="1157.68" y="-10" width="2.2" height="480"/><rect x="1163.1" y="-10" width="2.2" height="480"/><rect x="1168.52" y="-10" width="2.2" height="480"/><rect x="1173.94" y="-10" width="2.2" height="480"/><rect x="1179.36" y="-10" width="2.2" height="480"/><rect x="1184.78" y="-10" width="2.2" height="480"/><rect x="1190.2" y="-10" width="2.2" height="480"/><rect x="1195.62" y="-10" width="2.2" height="480"/><rect x="1201.04" y="-10" width="2.2" height="480"/><rect x="1206.46" y="-10" width="2.2" height="480"/><rect x="1211.88" y="-10" width="2.2" height="480"/><rect x="1217.3" y="-10" width="2.2" height="480"/><rect x="1222.72" y="-10" width="2.2" height="480"/><rect x="1228.14" y="-10" width="2.2" height="480"/><rect x="1233.56" y="-10" width="2.2" height="480"/><rect x="1238.98" y="-10" width="2.2" height="480"/><rect x="1244.4" y="-10" width="2.2" height="480"/><rect x="1249.82" y="-10" width="2.2" height="480"/><rect x="1255.24" y="-10" width="2.2" height="480"/><rect x="1260.66" y="-10" width="2.2" height="480"/><rect x="1266.08" y="-10" width="2.2" height="480"/><rect x="1271.5" y="-10" width="2.2" height="480"/><rect x="1276.92" y="-10" width="2.2" height="480"/><rect x="1282.34" y="-10" width="2.2" height="480"/><rect x="1287.76" y="-10" width="2.2" height="480"/><rect x="1293.18" y="-10" width="2.2" height="480"/><rect x="1298.6" y="-10" width="2.2" height="480"/><rect x="1304.02" y="-10" width="2.2" height="480"/><rect x="1309.44" y="-10" width="2.2" height="480"/><rect x="1314.86" y="-10" width="2.2" height="480"/><rect x="1320.28" y="-10" width="2.2" height="480"/><rect x="1325.7" y="-10" width="2.2" height="480"/></g>
<path d="M1000,305.93 L1000.5,308.48 L1001,310.98 L1001.5,313.44 L1002,315.87 L1002.5,318.26 L1003,320.62 L1003.5,322.94 L1004,325.22 L1004.5,327.47 L1005,329.69 L1005.5,331.88 L1006,334.03 L1006.5,336.15 L1007,338.24 L1007.5,340.31 L1008,342.34 L1008.5,344.34 L1009,346.32 L1009.5,348.27 L1010,350.19 L1010.5,352.09 L1011,353.96 L1011.5,355.81 L1012,357.64 L1012.5,359.44 L1013,361.21 L1013.5,362.97 L1014,364.71 L1014.5,366.43 L1015,368.13 L1015.5,369.82 L1016,371.5 L1016.5,373.17 L1017,374.83 L1017.5,376.48 L1018,378.13 L1018.5,379.77 L1019,381.41 L1019.5,383.04 L1020,384.67 L1020.5,386.3 L1021,387.93 L1021.5,389.56 L1022,391.19 L1022.5,392.83 L1023,394.47 L1023.5,396.11 L1024,397.77 L1024.5,399.42 L1025,401.09 L1025.5,402.76 L1026,404.43 L1026.5,406.08 L1027,407.7 L1027.5,409.27 L1028,410.8 L1028.5,412.28 L1029,413.7 L1029.5,415.06 L1030,416.37 L1030.5,417.61 L1031,418.8 L1031.5,419.93 L1032,421.01 L1032.5,422.03 L1033,423.01 L1033.5,423.95 L1034,424.84 L1034.5,425.69 L1035,426.5 L1035.5,427.27 L1036,428.01 L1036.5,428.72 L1037,429.39 L1037.5,430.04 L1038,430.66 L1038.5,431.25 L1039,431.82 L1039.5,432.37 L1040,432.9 L1040.5,433.4 L1041,433.89 L1041.5,434.36 L1042,434.82 L1042.5,435.26 L1043,435.69 L1043.5,436.1 L1044,436.51 L1044.5,436.9 L1045,437.28 L1045.5,437.65 L1046,438.01 L1046.5,438.37 L1047,438.71 L1047.5,439.05 L1048,439.37 L1048.5,439.7 L1049,440.01 L1049.5,440.31 L1050,440.61 L1050.5,440.91 L1051,441.19 L1051.5,441.47 L1052,441.75 L1052.5,442.02 L1053,442.28 L1053.5,442.54 L1054,442.79 L1054.5,443.04 L1055,443.28 L1055.5,443.52 L1056,443.75 L1056.5,443.98 L1057,444.2 L1057.5,444.42 L1058,444.63 L1058.5,444.84 L1059,445.05 L1059.5,445.25 L1060,445.45 L1060.5,445.64 L1061,445.83 L1061.5,446.01 L1062,446.19 L1062.5,446.37 L1063,446.54 L1063.5,446.71 L1064,446.87 L1064.5,447.03 L1065,447.19 L1065.5,447.34 L1066,447.48 L1066.5,447.63 L1067,447.77 L1067.5,447.9 L1068,448.04 L1068.5,448.17 L1069,448.29 L1069.5,448.41 L1070,448.53 L1070.5,448.65 L1071,448.76 L1071.5,448.87 L1072,448.98 L1072.5,449.08 L1073,449.18 L1073.5,449.28 L1074,449.37 L1074.5,449.46 L1075,449.55 L1075.5,449.64 L1076,449.72 L1076.5,449.8 L1077,449.88 L1077.5,449.96 L1078,450.03 L1078.5,450.1 L1079,450.17 L1079.5,450.24 L1080,450.3 L1080.5,450.36 L1081,450.42 L1081.5,450.48 L1082,450.53 L1082.5,450.59 L1083,450.64 L1083.5,450.69 L1084,450.74 L1084.5,450.78 L1085,450.83 L1085.5,450.87 L1086,450.91 L1086.5,450.95 L1087,450.99 L1087.5,451.03 L1088,451.06 L1088.5,451.1 L1089,451.13 L1089.5,451.16 L1090,451.19 L1090.5,451.22 L1091,451.25 L1091.5,451.28 L1092,451.31 L1092.5,451.33 L1093,451.36 L1093.5,451.38 L1094,451.4 L1094.5,451.43 L1095,451.45 L1095.5,451.47 L1096,451.49 L1096.5,451.51 L1097,451.53 L1097.5,451.54 L1098,451.56 L1098.5,451.58 L1099,451.59 L1099.5,451.61 L1100,451.62 L1100.5,451.64 L1101,451.65 L1101.5,451.67 L1102,451.68 L1102.5,451.69 L1103,451.7 L1103.5,451.72 L1104,451.73 L1104.5,451.74 L1105,451.75 L1105.5,451.76 L1106,451.77 L1106.5,451.78 L1107,451.78 L1107.5,451.79 L1108,451.8 L1108.5,451.81 L1109,451.82 L1109.5,451.82 L1110,451.83 L1110.5,451.84 L1111,451.84 L1111.5,451.85 L1112,451.86 L1112.5,451.86 L1113,451.87 L1113.5,451.87 L1114,451.88 L1114.5,451.88 L1115,451.89 L1115.5,451.89 L1116,451.9 L1116.5,451.9 L1117,451.9 L1117.5,451.91 L1118,451.91 L1118.5,451.92 L1119,451.92 L1119.5,451.92 L1120,451.93 L1120.5,451.93 L1121,451.93 L1121.5,451.93 L1122,451.94 L1122.5,451.94 L1123,451.94 L1123.5,451.94 L1124,451.95 L1124.5,451.95 L1125,451.95 L1125.5,451.95 L1126,451.96 L1126.5,451.96 L1127,451.96 L1127.5,451.96 L1128,451.96 L1128.5,451.96 L1129,451.97 L1129.5,451.97 L1130,451.97 L1130.5,451.97 L1131,451.97 L1131.5,451.97 L1132,451.97 L1132.5,451.97 L1133,451.98 L1133.5,451.98 L1134,451.98 L1134.5,451.98 L1135,451.98 L1135.5,451.98 L1136,451.98 L1136.5,451.98 L1137,451.98 L1137.5,451.98 L1138,451.98 L1138.5,451.98 L1139,451.99 L1139.5,451.99 L1140,451.99 L1140.5,451.99 L1141,451.99 L1141.5,451.99 L1142,451.99 L1142.5,451.99 L1143,451.99 L1143.5,451.99 L1144,451.99 L1144.5,451.99 L1145,451.99 L1145.5,451.99 L1146,451.99 L1146.5,451.99 L1147,451.99 L1147.5,451.99 L1148,451.99 L1148.5,451.99 L1149,451.99 L1149.5,451.99 L1150,451.99 L1150.5,451.99 L1151,452 L1151.5,452 L1152,452 L1152.5,452 L1153,452 L1153.5,452 L1154,452 L1154.5,452 L1155,452 L1155.5,452 L1156,452 L1156.5,452 L1157,452 L1157.5,452 L1158,452 L1158.5,452 L1159,452 L1159.5,452 L1160,452 L1160.5,452 L1161,452 L1161.5,452 L1162,452 L1162.5,452 L1163,452 L1163.5,452 L1164,452 L1164.5,452 L1165,452 L1165.5,452 L1166,452 L1166.5,452 L1167,452 L1167.5,452 L1168,452 L1168.5,452 L1169,452 L1169.5,452 L1170,452 L1170.5,452 L1171,452 L1171.5,452 L1172,452 L1172.5,452 L1173,452 L1173.5,452 L1174,452 L1174.5,452 L1175,452 L1175.5,452 L1176,452 L1176.5,452 L1177,452 L1177.5,452 L1178,452 L1178.5,452 L1179,452 L1179.5,452 L1180,452 L1180.5,452 L1181,452 L1181.5,452 L1182,452 L1182.5,452 L1183,452 L1183.5,452 L1184,452 L1184.5,452 L1185,452 L1185.5,452 L1186,452 L1186.5,452 L1187,452 L1187.5,452 L1188,452 L1188.5,452 L1189,452 L1189.5,452 L1190,452 L1190.5,452 L1191,452 L1191.5,452 L1192,452 L1192.5,452 L1193,452 L1193.5,452 L1194,452 L1194.5,452 L1195,452 L1195.5,452 L1196,452 L1196.5,452 L1197,452 L1197.5,452 L1198,452 L1198.5,452 L1199,452 L1199.5,452 L1200,452 L1200.5,452 L1201,452 L1201.5,452 L1202,452 L1202.5,452 L1203,452 L1203.5,452 L1204,452 L1204.5,452 L1205,452 L1205.5,452 L1206,452 L1206.5,452 L1207,452 L1207.5,452 L1208,452 L1208.5,452 L1209,452 L1209.5,452 L1210,452 L1210.5,452 L1211,452 L1211.5,452 L1212,452 L1212.5,452 L1213,452 L1213.5,452 L1214,452 L1214.5,452 L1215,452 L1215.5,452 L1216,452 L1216.5,452 L1217,452 L1217.5,452 L1218,452 L1218.5,452 L1219,452 L1219.5,452 L1220,452 L1220.5,452 L1221,452 L1221.5,452 L1222,452 L1222.5,452 L1223,452 L1223.5,452 L1224,452 L1224.5,452 L1225,452 L1225.5,452 L1226,452 L1226.5,452 L1227,452 L1227.5,452 L1228,452 L1228.5,452 L1229,452 L1229.5,452 L1230,452 L1230.5,452 L1231,452 L1231.5,452 L1232,452 L1232.5,452 L1233,452 L1233.5,452 L1234,452 L1234.5,452 L1235,452 L1235.5,452 L1236,452 L1236.5,452 L1237,452 L1237.5,452 L1238,452 L1238.5,452 L1239,452 L1239.5,452 L1240,452 L1240.5,452 L1241,452 L1241.5,452 L1242,452 L1242.5,452 L1243,452 L1243.5,452 L1244,452 L1244.5,452 L1245,452 L1245.5,452 L1246,452 L1246.5,452 L1247,452 L1247.5,452 L1248,452 L1248.5,452 L1249,452 L1249.5,452" fill="none" stroke="#F0E442" stroke-width="3"/>
<path d="M789,452.4 L789.5,452.4 L790,452.4 L790.5,452.4 L791,452.4 L791.5,452.4 L792,452.4 L792.5,452.4 L793,452.4 L793.5,452.4 L794,452.4 L794.5,452.4 L795,452.4 L795.5,452.4 L796,452.4 L796.5,452.4 L797,452.4 L797.5,452.4 L798,452.4 L798.5,452.4 L799,452.4 L799.5,452.4 L800,452.4 L800.5,452.4 L801,452.4 L801.5,452.4 L802,452.4 L802.5,452.4 L803,452.4 L803.5,452.4 L804,452.4 L804.5,452.4 L805,452.4 L805.5,452.4 L806,452.4 L806.5,452.4 L807,452.4 L807.5,452.4 L808,452.4 L808.5,452.4 L809,452.4 L809.5,452.4 L810,452.4 L810.5,452.4 L811,452.4 L811.5,452.4 L812,452.4 L812.5,452.4 L813,452.4 L813.5,452.4 L814,452.4 L814.5,452.4 L815,452.4 L815.5,452.4 L816,452.4 L816.5,452.4 L817,452.4 L817.5,452.4 L818,452.4 L818.5,452.4 L819,452.4 L819.5,452.4 L820,452.4 L820.5,452.4 L821,452.4 L821.5,452.4 L822,452.4 L822.5,452.4 L823,452.4 L823.5,452.4 L824,452.4 L824.5,452.4 L825,452.4 L825.5,452.4 L826,452.4 L826.5,452.4 L827,452.4 L827.5,452.4 L828,452.4 L828.5,452.4 L829,452.4 L829.5,452.4 L830,452.4 L830.5,452.4 L831,452.4 L831.5,452.4 L832,452.4 L832.5,452.4 L833,452.4 L833.5,452.4 L834,452.4 L834.5,452.4 L835,452.4 L835.5,452.4 L836,452.4 L836.5,452.4 L837,452.4 L837.5,452.4 L838,452.4 L838.5,452.4 L839,452.4 L839.5,452.4 L840,452.1 L840.5,452.1 L841,452.11 L841.5,452.13 L842,452.15 L842.5,452.17 L843,452.2 L843.5,452.23 L844,452.26 L844.5,452.3 L845,452.33 L845.5,452.37 L846,452.4 L846.5,452.44 L847,452.47 L847.5,452.5 L848,452.53 L848.5,452.55 L849,452.57 L849.5,452.59 L850,452.6 L850.5,452.61 L851,452.61 L851.5,452.6 L852,452.59 L852.5,452.57 L853,452.54 L853.5,452.5 L854,452.45 L854.5,452.39 L855,452.31 L855.5,452.23 L856,452.13 L856.5,452.01 L857,451.89 L857.5,451.74 L858,451.59 L858.5,451.42 L859,451.24 L859.5,451.04 L860,450.82 L860.5,450.6 L861,450.36 L861.5,450.1 L862,449.83 L862.5,449.54 L863,449.24 L863.5,448.92 L864,448.59 L864.5,448.24 L865,447.88 L865.5,447.5 L866,447.1 L866.5,446.69 L867,446.26 L867.5,445.82 L868,445.35 L868.5,444.87 L869,444.37 L869.5,443.86 L870,443.32 L870.5,442.77 L871,442.2 L871.5,441.61 L872,441 L872.5,440.36 L873,439.71 L873.5,439.04 L874,438.34 L874.5,437.62 L875,436.87 L875.5,436.1 L876,435.3 L876.5,434.46 L877,433.6 L877.5,432.7 L878,431.77 L878.5,430.79 L879,429.78 L879.5,428.72 L880,427.62 L880.5,426.46 L881,425.26 L881.5,424 L882,422.68 L882.5,421.3 L883,419.86 L883.5,418.35 L884,416.78 L884.5,415.13 L885,413.42 L885.5,411.64 L886,409.8 L886.5,407.9 L887,405.97 L887.5,404 L888,402 L888.5,399.99 L889,397.95 L889.5,395.89 L890,393.81 L890.5,391.7 L891,389.57 L891.5,387.41 L892,385.23 L892.5,383.02 L893,380.78 L893.5,378.52 L894,376.23 L894.5,373.9 L895,371.55 L895.5,369.16 L896,366.74 L896.5,364.29 L897,361.8 L897.5,359.28 L898,356.72 L898.5,354.12 L899,351.48 L899.5,348.81 L900,346.09 L900.5,343.32 L901,340.51 L901.5,337.66 L902,334.76 L902.5,331.8 L903,328.8 L903.5,325.74 L904,322.63 L904.5,319.45 L905,316.22 L905.5,312.93 L906,309.57 L906.5,306.14 L907,302.64 L907.5,299.07 L908,295.42 L908.5,291.7 L909,287.89 L909.5,284.02 L910,280.06 L910.5,276.03 L911,271.93 L911.5,267.76 L912,263.53 L912.5,259.23 L913,254.88 L913.5,250.47 L914,246.03 L914.5,241.54 L915,237.04 L915.5,232.51 L916,227.97 L916.5,223.44 L917,218.92 L917.5,214.41 L918,209.94 L918.5,205.5 L919,201.1 L919.5,196.76 L920,192.47 L920.5,188.25 L921,184.09 L921.5,180 L922,175.99 L922.5,172.05 L923,168.18 L923.5,164.39 L924,160.68 L924.5,157.05 L925,153.49 L925.5,150 L926,146.59 L926.5,143.25 L927,139.99 L927.5,136.8 L928,133.69 L928.5,130.65 L929,127.68 L929.5,124.79 L930,121.96 L930.5,119.2 L931,116.5 L931.5,113.87 L932,111.3 L932.5,108.79 L933,106.34 L933.5,103.94 L934,101.6 L934.5,99.31 L935,97.06 L935.5,94.87 L936,92.72 L936.5,90.62 L937,88.56 L937.5,86.54 L938,84.57 L938.5,82.65 L939,80.79 L939.5,78.98 L940,77.24 L940.5,75.55 L941,73.92 L941.5,72.34 L942,70.82 L942.5,69.4 L943,68.17 L943.5,67.14 L944,66.26 L944.5,65.51 L945,64.86 L945.5,64.28 L946,63.78 L946.5,63.35 L947,62.99 L947.5,62.72 L948,62.57 L948.5,62.59 L949,62.85 L949.5,63.37 L950,64.15 L950.5,65.05 L951,65.98 L951.5,66.93 L952,67.91 L952.5,68.92 L953,69.96 L953.5,71.03 L954,72.12 L954.5,73.25 L955,74.42 L955.5,75.62 L956,76.85 L956.5,78.13 L957,79.44 L957.5,80.79 L958,82.19 L958.5,83.63 L959,85.11 L959.5,86.64 L960,88.22 L960.5,89.84 L961,91.51 L961.5,93.22 L962,94.98 L962.5,96.79 L963,98.64 L963.5,100.53 L964,102.45 L964.5,104.41 L965,106.39 L965.5,108.4 L966,110.44 L966.5,112.51 L967,114.61 L967.5,116.74 L968,118.91 L968.5,121.1 L969,123.33 L969.5,125.59 L970,127.88 L970.5,130.21 L971,132.58 L971.5,134.98 L972,137.41 L972.5,139.89 L973,142.4 L973.5,144.95 L974,147.54 L974.5,150.17 L975,152.84 L975.5,155.55 L976,158.3 L976.5,161.08 L977,163.91 L977.5,166.78 L978,169.69 L978.5,172.64 L979,175.62 L979.5,178.64 L980,181.7 L980.5,184.8 L981,187.93 L981.5,191.09 L982,194.28 L982.5,197.5 L983,200.75 L983.5,204.02 L984,207.31 L984.5,210.62 L985,213.94 L985.5,217.28 L986,220.62 L986.5,223.97 L987,227.32 L987.5,230.66 L988,234 L988.5,237.34 L989,240.66 L989.5,243.96 L990,247.24 L990.5,250.51 L991,253.75 L991.5,256.96 L992,260.15 L992.5,263.3 L993,266.42 L993.5,269.5 L994,272.55 L994.5,275.56 L995,278.54 L995.5,281.47 L996,284.37 L996.5,287.22 L997,290.04 L997.5,292.81 L998,295.55 L998.5,298.24 L999,300.89 L999.5,303.5 L1000,306.08 L1000.5,308.61 L1001,311.11 L1001.5,313.57 L1002,315.99 L1002.5,318.37 L1003,320.72 L1003.5,323.03 L1004,325.3 L1004.5,327.55 L1005,329.75 L1005.5,331.93 L1006,334.07 L1006.5,336.18 L1007,338.27 L1007.5,340.32 L1008,342.34 L1008.5,344.33 L1009,346.29 L1009.5,348.23 L1010,350.14 L1010.5,352.02 L1011,353.88 L1011.5,355.72 L1012,357.52 L1012.5,359.31 L1013,361.07 L1013.5,362.81 L1014,364.53 L1014.5,366.23 L1015,367.92 L1015.5,369.59 L1016,371.25 L1016.5,372.9 L1017,374.54 L1017.5,376.17 L1018,377.79 L1018.5,379.41 L1019,381.02 L1019.5,382.63 L1020,384.23 L1020.5,385.84 L1021,387.44 L1021.5,389.04 L1022,390.65 L1022.5,392.26 L1023,393.87 L1023.5,395.48 L1024,397.11 L1024.5,398.73 L1025,400.37 L1025.5,402.01 L1026,403.64 L1026.5,405.25 L1027,406.83 L1027.5,408.38 L1028,409.87 L1028.5,411.31 L1029,412.69 L1029.5,414.01 L1030,415.27 L1030.5,416.47 L1031,417.62 L1031.5,418.7 L1032,419.74 L1032.5,420.72 L1033,421.65 L1033.5,422.54 L1034,423.38 L1034.5,424.18 L1035,424.93 L1035.5,425.66 L1036,426.34 L1036.5,426.99 L1037,427.61 L1037.5,428.21 L1038,428.77 L1038.5,429.3 L1039,429.81 L1039.5,430.3 L1040,430.76 L1040.5,431.21 L1041,431.63 L1041.5,432.03 L1042,432.42 L1042.5,432.8 L1043,433.16 L1043.5,433.5 L1044,433.83 L1044.5,434.15 L1045,434.46 L1045.5,434.76 L1046,435.04 L1046.5,435.32 L1047,435.58 L1047.5,435.84 L1048,436.09 L1048.5,436.33 L1049,436.56 L1049.5,436.78 L1050,436.99 L1050.5,437.2 L1051,437.4 L1051.5,437.59 L1052,437.77 L1052.5,437.95 L1053,438.12 L1053.5,438.28 L1054,438.44 L1054.5,438.59 L1055,438.74 L1055.5,438.88 L1056,439.01 L1056.5,439.14 L1057,439.26 L1057.5,439.38 L1058,439.49 L1058.5,439.6 L1059,439.7 L1059.5,439.79 L1060,439.88 L1060.5,439.96 L1061,440.04 L1061.5,440.12 L1062,440.19 L1062.5,440.25 L1063,440.31 L1063.5,440.37 L1064,440.42 L1064.5,440.46 L1065,440.5 L1065.5,440.54 L1066,440.57 L1066.5,440.59 L1067,440.61 L1067.5,440.63 L1068,440.65 L1068.5,440.66 L1069,440.66 L1069.5,440.66 L1070,440.66 L1070.5,440.65 L1071,440.64 L1071.5,440.63 L1072,440.62 L1072.5,440.6 L1073,440.57 L1073.5,440.55 L1074,440.52 L1074.5,440.48 L1075,440.45 L1075.5,440.41 L1076,440.37 L1076.5,440.33 L1077,440.28 L1077.5,440.23 L1078,440.18 L1078.5,440.13 L1079,440.07 L1079.5,440.02 L1080,439.96 L1080.5,439.89 L1081,439.83 L1081.5,439.77 L1082,439.7 L1082.5,439.63 L1083,439.56 L1083.5,439.49 L1084,439.42 L1084.5,439.35 L1085,439.27 L1085.5,439.2 L1086,439.12 L1086.5,439.04 L1087,438.97 L1087.5,438.89 L1088,438.81 L1088.5,438.73 L1089,438.65 L1089.5,438.57 L1090,438.49 L1090.5,438.41 L1091,438.33 L1091.5,438.25 L1092,438.17 L1092.5,438.09 L1093,438.02 L1093.5,437.94 L1094,437.86 L1094.5,437.78 L1095,437.71 L1095.5,437.63 L1096,437.55 L1096.5,437.48 L1097,437.4 L1097.5,437.33 L1098,437.26 L1098.5,437.19 L1099,437.12 L1099.5,437.05 L1100,436.98 L1100.5,436.91 L1101,436.85 L1101.5,436.78 L1102,436.72 L1102.5,436.66 L1103,436.6 L1103.5,436.54 L1104,436.48 L1104.5,436.43 L1105,436.37 L1105.5,436.32 L1106,436.27 L1106.5,436.22 L1107,436.17 L1107.5,436.13 L1108,436.08 L1108.5,436.04 L1109,436 L1109.5,435.96 L1110,435.92 L1110.5,435.89 L1111,435.86 L1111.5,435.82 L1112,435.8 L1112.5,435.77 L1113,435.74 L1113.5,435.72 L1114,435.7 L1114.5,435.68 L1115,435.66 L1115.5,435.64 L1116,435.63 L1116.5,435.62 L1117,435.61 L1117.5,435.6 L1118,435.6 L1118.5,435.59 L1119,435.59 L1119.5,435.59 L1120,435.6 L1120.5,435.6 L1121,435.61 L1121.5,435.62 L1122,435.63 L1122.5,435.64 L1123,435.66 L1123.5,435.68 L1124,435.7 L1124.5,435.72 L1125,435.74 L1125.5,435.77 L1126,435.79 L1126.5,435.82 L1127,435.86 L1127.5,435.89 L1128,435.92 L1128.5,435.96 L1129,436 L1129.5,436.04 L1130,436.09 L1130.5,436.13 L1131,436.18 L1131.5,436.23 L1132,436.28 L1132.5,436.33 L1133,436.38 L1133.5,436.44 L1134,436.5 L1134.5,436.56 L1135,436.62 L1135.5,436.68 L1136,436.75 L1136.5,436.81 L1137,436.88 L1137.5,436.95 L1138,437.02 L1138.5,437.09 L1139,437.16 L1139.5,437.24 L1140,437.32 L1140.5,437.39 L1141,437.47 L1141.5,437.55 L1142,437.64 L1142.5,437.72 L1143,437.8 L1143.5,437.89 L1144,437.98 L1144.5,438.06 L1145,438.15 L1145.5,438.24 L1146,438.34 L1146.5,438.43 L1147,438.52 L1147.5,438.62 L1148,438.71 L1148.5,438.81 L1149,438.9 L1149.5,439 L1150,439.1 L1150.5,439.2 L1151,439.3 L1151.5,439.4 L1152,439.5 L1152.5,439.61 L1153,439.71 L1153.5,439.81 L1154,439.92 L1154.5,440.02 L1155,440.13 L1155.5,440.23 L1156,440.34 L1156.5,440.44 L1157,440.55 L1157.5,440.66 L1158,440.77 L1158.5,440.87 L1159,440.98 L1159.5,441.09 L1160,441.2 L1160.5,441.31 L1161,441.42 L1161.5,441.52 L1162,441.63 L1162.5,441.74 L1163,441.85 L1163.5,441.96 L1164,442.07 L1164.5,442.18 L1165,442.29 L1165.5,442.4 L1166,442.5 L1166.5,442.61 L1167,442.72 L1167.5,442.83 L1168,442.94 L1168.5,443.05 L1169,443.15 L1169.5,443.26 L1170,443.37 L1170.5,443.47 L1171,443.58 L1171.5,443.69 L1172,443.79 L1172.5,443.9 L1173,444 L1173.5,444.11 L1174,444.21 L1174.5,444.31 L1175,444.42 L1175.5,444.52 L1176,444.62 L1176.5,444.72 L1177,444.82 L1177.5,444.92 L1178,445.02 L1178.5,445.12 L1179,445.22 L1179.5,445.32 L1180,445.41 L1180.5,445.51 L1181,445.61 L1181.5,445.7 L1182,445.8 L1182.5,445.89 L1183,445.98 L1183.5,446.07 L1184,446.17 L1184.5,446.26 L1185,446.35 L1185.5,446.44 L1186,446.52 L1186.5,446.61 L1187,446.7 L1187.5,446.79 L1188,446.87 L1188.5,446.96 L1189,447.04 L1189.5,447.12 L1190,447.21 L1190.5,447.29 L1191,447.37 L1191.5,447.45 L1192,447.53 L1192.5,447.6 L1193,447.68 L1193.5,447.76 L1194,447.83 L1194.5,447.91 L1195,447.98 L1195.5,448.06 L1196,448.13 L1196.5,448.2 L1197,448.27 L1197.5,448.34 L1198,448.41 L1198.5,448.48 L1199,448.54 L1199.5,448.61 L1200,448.68 L1200.5,448.74 L1201,448.81 L1201.5,448.87 L1202,448.93 L1202.5,448.99 L1203,449.05 L1203.5,449.11 L1204,449.17 L1204.5,449.23 L1205,449.29 L1205.5,449.34 L1206,449.4 L1206.5,449.46 L1207,449.51 L1207.5,449.56 L1208,449.62 L1208.5,449.67 L1209,449.72 L1209.5,449.77 L1210,449.82 L1210.5,449.87 L1211,449.92 L1211.5,449.96 L1212,450.01 L1212.5,450.06 L1213,450.1 L1213.5,450.15 L1214,450.19 L1214.5,450.23 L1215,450.28 L1215.5,450.32 L1216,450.36 L1216.5,450.4 L1217,450.44 L1217.5,450.48 L1218,450.52 L1218.5,450.55 L1219,450.59 L1219.5,450.63 L1220,450.66 L1220.5,450.7 L1221,450.73 L1221.5,450.77 L1222,450.8 L1222.5,450.83 L1223,450.86 L1223.5,450.9 L1224,450.93 L1224.5,450.96 L1225,450.99 L1225.5,451.02 L1226,451.05 L1226.5,451.07 L1227,451.1 L1227.5,451.13 L1228,451.16 L1228.5,451.18 L1229,451.21 L1229.5,451.23 L1230,451.26 L1230.5,451.28 L1231,451.31 L1231.5,451.33 L1232,451.35 L1232.5,451.37 L1233,451.4 L1233.5,451.42 L1234,451.44 L1234.5,451.46 L1235,451.48 L1235.5,451.5 L1236,451.52 L1236.5,451.54 L1237,451.55 L1237.5,451.57 L1238,451.59 L1238.5,451.61 L1239,451.63 L1239.5,451.64 L1240,451.66 L1240.5,451.67 L1241,451.69 L1241.5,451.7 L1242,451.72 L1242.5,451.73 L1243,451.75 L1243.5,451.76 L1244,451.78 L1244.5,451.79 L1245,451.8 L1245.5,451.82 L1246,451.83 L1246.5,451.84 L1247,451.85 L1247.5,451.86 L1248,451.87 L1248.5,451.89 L1249,451.9 L1249.5,451.91 L1250,451.92 L1250.5,451.93 L1251,451.94 L1251.5,451.95 L1252,451.96 L1252.5,451.97 L1253,451.97 L1253.5,451.98 L1254,451.99 L1254.5,452 L1255,452.01 L1255.5,452.02 L1256,452.02 L1256.5,452.03 L1257,452.04 L1257.5,452.05 L1258,452.05 L1258.5,452.06 L1259,452.07 L1259.5,452.07 L1260,452.08 L1260.5,452.09 L1261,452.09 L1261.5,452.1 L1262,452.1 L1262.5,452.11 L1263,452.11 L1263.5,452.12 L1264,452.12 L1264.5,452.13 L1265,452.13 L1265.5,452.14 L1266,452.14 L1266.5,452.15 L1267,452.15 L1267.5,452.16 L1268,452.16 L1268.5,452.17 L1269,452.17 L1269.5,452.17 L1270,452.18 L1270.5,452.18 L1271,452.18 L1271.5,452.19 L1272,452.19 L1272.5,452.19 L1273,452.2 L1273.5,452.2 L1274,452.2 L1274.5,452.21 L1275,452.21 L1275.5,452.21 L1276,452.21 L1276.5,452.22 L1277,452.22 L1277.5,452.22 L1278,452.22 L1278.5,452.23 L1279,452.23 L1279.5,452.23 L1280,452.23 L1280.5,452.23 L1281,452.24 L1281.5,452.24 L1282,452.24 L1282.5,452.24 L1283,452.24 L1283.5,452.25 L1284,452.25 L1284.5,452.25 L1285,452.25 L1285.5,452.25 L1286,452.25 L1286.5,452.26 L1287,452.26 L1287.5,452.26 L1288,452.26 L1288.5,452.26 L1289,452.26 L1289.5,452.26 L1290,452.26 L1290.5,452.27 L1291,452.27 L1291.5,452.27 L1292,452.27 L1292.5,452.27 L1293,452.27 L1293.5,452.27 L1294,452.27 L1294.5,452.27 L1295,452.27 L1295.5,452.28 L1296,452.28 L1296.5,452.28 L1297,452.28 L1297.5,452.28 L1298,452.28 L1298.5,452.28 L1299,452.28 L1299.5,452.28 L1300,452.28 L1300.5,452.28 L1301,452.28 L1301.5,452.28 L1302,452.28 L1302.5,452.28 L1303,452.29 L1303.5,452.29 L1304,452.29 L1304.5,452.29 L1305,452.29 L1305.5,452.29 L1306,452.29 L1306.5,452.29 L1307,452.29 L1307.5,452.29 L1308,452.29 L1308.5,452.29 L1309,452.29 L1309.5,452.29 L1310,452.29 L1310.5,452.29 L1311,452.29 L1311.5,452.29 L1312,452.29 L1312.5,452.29 L1313,452.29 L1313.5,452.29 L1314,452.29 L1314.5,452.29 L1315,452.29 L1315.5,452.29 L1316,452.29 L1316.5,452.29 L1317,452.29 L1317.5,452.29 L1318,452.29 L1318.5,452.3 L1319,452.3 L1319.5,452.3 L1320,452.3 L1320.5,452.3 L1321,452.3 L1321.5,452.3 L1322,452.3 L1322.5,452.3 L1323,452.3 L1323.5,452.3 L1324,452.3 L1324.5,452.3 L1325,452.3 L1325.5,452.3 L1326,452.3 L1326.5,452.3 L1327,452.3 L1327.5,452.3 L1328,452.3 L1328.5,452.3 L1329,452.3 L1329.5,452.3 L1330,452.3 L1330.5,452.3 L1331,452.3 L1331.5,452.3 L1332,452.3 L1332.5,452.3 L1333,452.3 L1333.5,452.3 L1334,452.3 L1334.5,452.3" fill="none" stroke="#000" stroke-width="3" stroke-linejoin="round"/>
<path d="M797.6,-5 C797.65,5.83 797.73,39.17 797.9,60 C798.07,80.83 798.33,100 798.6,120 C798.87,140 799.22,158.33 799.5,180 C799.78,201.67 800.05,232 800.3,250 C800.55,268 800.67,277.4 801,288 C801.33,298.6 801.78,305.1 802.3,313.6 C802.82,322.1 803.47,330.52 804.1,339 C804.73,347.48 805.52,357.67 806.1,364.5 C806.68,371.33 807.13,375.3 807.6,380 C808.07,384.7 808.25,388.45 808.9,392.7 C809.55,396.95 810.43,401.25 811.5,405.5 C812.57,409.75 814.03,415.02 815.3,418.2 C816.57,421.38 817.62,422.47 819.1,424.6 C820.58,426.73 822.28,429.1 824.2,431 C826.12,432.9 828.27,434.47 830.6,436 C832.93,437.53 835.23,439.15 838.2,440.2 C841.17,441.25 844.88,442 848.4,442.3 C851.92,442.6 855.5,442.45 859.3,442 C863.1,441.55 867.58,440.4 871.2,439.6 C874.82,438.8 877.83,437.77 881,437.2 C884.17,436.63 886.88,436.18 890.2,436.2 C893.52,436.22 898.1,436.67 900.9,437.3 C903.7,437.93 905.02,438.98 907,440 C908.98,441.02 910.88,442.23 912.8,443.4 C914.72,444.57 916.53,445.85 918.5,447 C920.47,448.15 922.58,449.47 924.6,450.3 C926.62,451.13 928.03,451.67 930.6,452 C933.17,452.33 936.05,452.25 940,452.3 C943.95,452.35 951.92,452.3 954.3,452.3" fill="none" stroke="#E05A04" stroke-width="3"/>
<line x1="954.0" y1="0" x2="954.0" y2="475" stroke="#222" stroke-width="1.4" stroke-dasharray="4.5 3.9"/>
<line x1="1123.7" y1="0" x2="1123.7" y2="475" stroke="#222" stroke-width="1.4" stroke-dasharray="4.5 3.9"/>
</g>
<rect x="1109.9" y="24" width="203.6" height="125.7" fill="#fff" stroke="#3a3a3a" stroke-width="1.2"/><line x1="1124.2" y1="45.7" x2="1158" y2="45.7" stroke="#55B5EB" stroke-width="3"/><text x="1172.9" y="51.7" font-size="17.3" text-anchor="start">observed</text><line x1="1124.2" y1="66" x2="1158" y2="66" stroke="#000" stroke-width="3"/><text x="1172.9" y="72" font-size="17.3" text-anchor="start">full model</text><line x1="1124.2" y1="87.2" x2="1158" y2="87.2" stroke="#F0E442" stroke-width="3"/><text x="1172.9" y="93.2" font-size="17.3" text-anchor="start">unique sequence</text><line x1="1124.2" y1="108.5" x2="1158" y2="108.5" stroke="#E05A04" stroke-width="3"/><text x="1172.9" y="114.5" font-size="17.3" text-anchor="start">errors</text><line x1="1124.2" y1="128.9" x2="1158" y2="128.9" stroke="#000" stroke-width="3" stroke-dasharray="10.6 7"/><text x="1172.9" y="134.9" font-size="17.3" text-anchor="start">kmer-peaks</text>
<rect x="764.2" y="6.9" width="566" height="462.7" fill="none" stroke="#3a3a3a" stroke-width="1.4"/>
<line x1="753.5" y1="452.6" x2="764.2" y2="452.6" stroke="#3a3a3a" stroke-width="1.4"/>
<text x="739.6" y="451.8" font-size="20.5" text-anchor="middle" transform="rotate(-90 739.6 451.8)">0.0e+00</text>
<line x1="753.5" y1="336.4" x2="764.2" y2="336.4" stroke="#3a3a3a" stroke-width="1.4"/>
<text x="739.6" y="335.6" font-size="20.5" text-anchor="middle" transform="rotate(-90 739.6 335.6)">5.0e+06</text>
<line x1="753.5" y1="220.2" x2="764.2" y2="220.2" stroke="#3a3a3a" stroke-width="1.4"/>
<text x="739.6" y="219.4" font-size="20.5" text-anchor="middle" transform="rotate(-90 739.6 219.4)">1.0e+07</text>
<line x1="753.5" y1="104.0" x2="764.2" y2="104.0" stroke="#3a3a3a" stroke-width="1.4"/>
<text x="739.6" y="103.2" font-size="20.5" text-anchor="middle" transform="rotate(-90 739.6 103.2)">1.5e+07</text>
<line x1="784.9" y1="469.6" x2="784.9" y2="480.5" stroke="#3a3a3a" stroke-width="1.4"/>
<text x="784.9" y="508.2" font-size="20" text-anchor="middle">0</text>
<line x1="920.4" y1="469.6" x2="920.4" y2="480.5" stroke="#3a3a3a" stroke-width="1.4"/>
<text x="920.4" y="508.2" font-size="20" text-anchor="middle">50</text>
<line x1="1055.9" y1="469.6" x2="1055.9" y2="480.5" stroke="#3a3a3a" stroke-width="1.4"/>
<text x="1055.9" y="508.2" font-size="20" text-anchor="middle">100</text>
<line x1="1191.4" y1="469.6" x2="1191.4" y2="480.5" stroke="#3a3a3a" stroke-width="1.4"/>
<text x="1191.4" y="508.2" font-size="20" text-anchor="middle">150</text>
<line x1="1326.9" y1="469.6" x2="1326.9" y2="480.5" stroke="#3a3a3a" stroke-width="1.4"/>
<text x="1326.9" y="508.2" font-size="20" text-anchor="middle">200</text>
<text x="1033.2" y="543.7" font-size="28.5" text-anchor="middle">Coverage</text>
<text x="699" y="240" font-size="28.3" text-anchor="middle" transform="rotate(-90 699 240)">Frequency</text>
<text x="801.7" y="37.9" font-size="28.6">P. alpinum</text>
</svg>
</body></html>
